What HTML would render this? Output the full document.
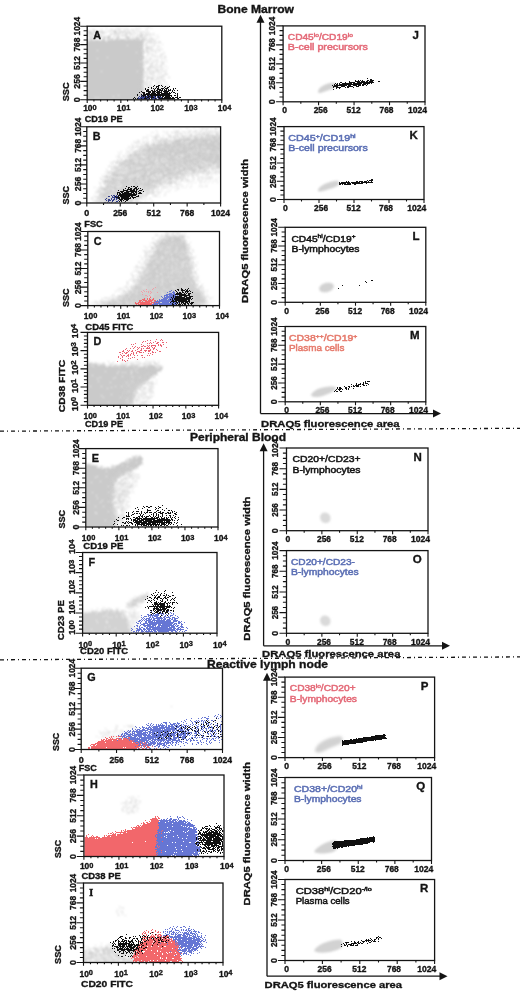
<!DOCTYPE html>
<html><head><meta charset="utf-8"><title>Figure</title>
<style>html,body{margin:0;padding:0;background:#fff;}svg{display:block;}
text{font-family:'Liberation Sans', 'DejaVu Sans', sans-serif;stroke:#141414;stroke-width:0.33px;}</style></head>
<body><svg width="520" height="993" viewBox="0 0 520 993" fill="#141414" font-weight="bold">
<defs><filter id="sp0" x="0" y="0" width="520" height="993" filterUnits="userSpaceOnUse" color-interpolation-filters="sRGB"><feTurbulence type="fractalNoise" baseFrequency="1.2" numOctaves="2" seed="3" result="n"/><feColorMatrix in="n" type="matrix" values="0 0 0 0 0 0 0 0 0 0 0 0 0 0 0 1 0 0 0 0" result="na"/><feComponentTransfer in="SourceAlpha" result="sa"><feFuncA type="table" tableValues="0 0.43 0.49 0.53 0.57 0.6 0.64 0.68 0.71 0.77 0.9"/></feComponentTransfer><feComposite in="sa" in2="na" operator="arithmetic" k1="0" k2="1" k3="-1" k4="0" result="d"/><feComponentTransfer in="d" result="t"><feFuncA type="discrete" tableValues="0 1 1 1 1 1 1 1 1 1"/></feComponentTransfer><feFlood flood-color="#cacaca"/><feComposite in2="t" operator="in"/><feGaussianBlur stdDeviation="0.8"/></filter><filter id="sp1" x="0" y="0" width="520" height="993" filterUnits="userSpaceOnUse" color-interpolation-filters="sRGB"><feTurbulence type="fractalNoise" baseFrequency="1.2" numOctaves="2" seed="11" result="n"/><feColorMatrix in="n" type="matrix" values="0 0 0 0 0 0 0 0 0 0 0 0 0 0 0 1 0 0 0 0" result="na"/><feComponentTransfer in="SourceAlpha" result="sa"><feFuncA type="table" tableValues="0 0.43 0.49 0.53 0.57 0.6 0.64 0.68 0.71 0.77 0.9"/></feComponentTransfer><feComposite in="sa" in2="na" operator="arithmetic" k1="0" k2="1" k3="-1" k4="0" result="d"/><feComponentTransfer in="d" result="t"><feFuncA type="discrete" tableValues="0 1 1 1 1 1 1 1 1 1"/></feComponentTransfer><feFlood flood-color="#d2d2d2"/><feComposite in2="t" operator="in"/><feGaussianBlur stdDeviation="0.8"/></filter><filter id="sp2" x="0" y="0" width="520" height="993" filterUnits="userSpaceOnUse" color-interpolation-filters="sRGB"><feTurbulence type="fractalNoise" baseFrequency="1.2" numOctaves="2" seed="23" result="n"/><feColorMatrix in="n" type="matrix" values="0 0 0 0 0 0 0 0 0 0 0 0 0 0 0 1 0 0 0 0" result="na"/><feComponentTransfer in="SourceAlpha" result="sa"><feFuncA type="table" tableValues="0 0.43 0.49 0.53 0.57 0.6 0.64 0.68 0.71 0.77 0.9"/></feComponentTransfer><feComposite in="sa" in2="na" operator="arithmetic" k1="0" k2="1" k3="-1" k4="0" result="d"/><feComponentTransfer in="d" result="t"><feFuncA type="discrete" tableValues="0 1 1 1 1 1 1 1 1 1"/></feComponentTransfer><feFlood flood-color="#101010"/><feComposite in2="t" operator="in"/></filter><filter id="sp3" x="0" y="0" width="520" height="993" filterUnits="userSpaceOnUse" color-interpolation-filters="sRGB"><feTurbulence type="fractalNoise" baseFrequency="1.2" numOctaves="2" seed="37" result="n"/><feColorMatrix in="n" type="matrix" values="0 0 0 0 0 0 0 0 0 0 0 0 0 0 0 1 0 0 0 0" result="na"/><feComponentTransfer in="SourceAlpha" result="sa"><feFuncA type="table" tableValues="0 0.43 0.49 0.53 0.57 0.6 0.64 0.68 0.71 0.77 0.9"/></feComponentTransfer><feComposite in="sa" in2="na" operator="arithmetic" k1="0" k2="1" k3="-1" k4="0" result="d"/><feComponentTransfer in="d" result="t"><feFuncA type="discrete" tableValues="0 1 1 1 1 1 1 1 1 1"/></feComponentTransfer><feFlood flood-color="#34408c"/><feComposite in2="t" operator="in"/></filter><filter id="sp4" x="0" y="0" width="520" height="993" filterUnits="userSpaceOnUse" color-interpolation-filters="sRGB"><feTurbulence type="fractalNoise" baseFrequency="1.2" numOctaves="2" seed="51" result="n"/><feColorMatrix in="n" type="matrix" values="0 0 0 0 0 0 0 0 0 0 0 0 0 0 0 1 0 0 0 0" result="na"/><feComponentTransfer in="SourceAlpha" result="sa"><feFuncA type="table" tableValues="0 0.43 0.49 0.53 0.57 0.6 0.64 0.68 0.71 0.77 0.9"/></feComponentTransfer><feComposite in="sa" in2="na" operator="arithmetic" k1="0" k2="1" k3="-1" k4="0" result="d"/><feComponentTransfer in="d" result="t"><feFuncA type="discrete" tableValues="0 1 1 1 1 1 1 1 1 1"/></feComponentTransfer><feFlood flood-color="#f0a0a8"/><feComposite in2="t" operator="in"/></filter><filter id="sp5" x="0" y="0" width="520" height="993" filterUnits="userSpaceOnUse" color-interpolation-filters="sRGB"><feTurbulence type="fractalNoise" baseFrequency="1.2" numOctaves="2" seed="67" result="n"/><feColorMatrix in="n" type="matrix" values="0 0 0 0 0 0 0 0 0 0 0 0 0 0 0 1 0 0 0 0" result="na"/><feComponentTransfer in="SourceAlpha" result="sa"><feFuncA type="table" tableValues="0 0.43 0.49 0.53 0.57 0.6 0.64 0.68 0.71 0.77 0.9"/></feComponentTransfer><feComposite in="sa" in2="na" operator="arithmetic" k1="0" k2="1" k3="-1" k4="0" result="d"/><feComponentTransfer in="d" result="t"><feFuncA type="discrete" tableValues="0 1 1 1 1 1 1 1 1 1"/></feComponentTransfer><feFlood flood-color="#f2676b"/><feComposite in2="t" operator="in"/></filter><filter id="sp6" x="0" y="0" width="520" height="993" filterUnits="userSpaceOnUse" color-interpolation-filters="sRGB"><feTurbulence type="fractalNoise" baseFrequency="1.2" numOctaves="2" seed="79" result="n"/><feColorMatrix in="n" type="matrix" values="0 0 0 0 0 0 0 0 0 0 0 0 0 0 0 1 0 0 0 0" result="na"/><feComponentTransfer in="SourceAlpha" result="sa"><feFuncA type="table" tableValues="0 0.43 0.49 0.53 0.57 0.6 0.64 0.68 0.71 0.77 0.9"/></feComponentTransfer><feComposite in="sa" in2="na" operator="arithmetic" k1="0" k2="1" k3="-1" k4="0" result="d"/><feComponentTransfer in="d" result="t"><feFuncA type="discrete" tableValues="0 1 1 1 1 1 1 1 1 1"/></feComponentTransfer><feFlood flood-color="#6676d4"/><feComposite in2="t" operator="in"/></filter><filter id="sp7" x="0" y="0" width="520" height="993" filterUnits="userSpaceOnUse" color-interpolation-filters="sRGB"><feTurbulence type="fractalNoise" baseFrequency="1.2" numOctaves="2" seed="97" result="n"/><feColorMatrix in="n" type="matrix" values="0 0 0 0 0 0 0 0 0 0 0 0 0 0 0 1 0 0 0 0" result="na"/><feComponentTransfer in="SourceAlpha" result="sa"><feFuncA type="table" tableValues="0 0.43 0.49 0.53 0.57 0.6 0.64 0.68 0.71 0.77 0.9"/></feComponentTransfer><feComposite in="sa" in2="na" operator="arithmetic" k1="0" k2="1" k3="-1" k4="0" result="d"/><feComponentTransfer in="d" result="t"><feFuncA type="discrete" tableValues="0 1 1 1 1 1 1 1 1 1"/></feComponentTransfer><feFlood flood-color="#ea6474"/><feComposite in2="t" operator="in"/></filter></defs>
<rect width="520" height="993" fill="#fff"/>
<text x="217.5" y="12.5" font-size="10.2" textLength="76.5" lengthAdjust="spacingAndGlyphs">Bone Marrow</text>
<text x="190" y="441" font-size="10.2" textLength="96" lengthAdjust="spacingAndGlyphs">Peripheral Blood</text>
<text x="207" y="667.5" font-size="10.2" textLength="121" lengthAdjust="spacingAndGlyphs">Reactive lymph node</text>
<line x1="0" y1="431.2" x2="520" y2="428.3" stroke="#141414" stroke-width="1.3" stroke-dasharray="4 3 1 3"/>
<line x1="0" y1="659.8" x2="520" y2="656.9" stroke="#141414" stroke-width="1.3" stroke-dasharray="4 3 1 3"/>
<clipPath id="c1"><rect x="87.8" y="26.8" width="133.4" height="72.4"/></clipPath>
<g clip-path="url(#c1)"><g fill="#000" filter="url(#sp0)"><path d="M86 41L125 39.5L143.5 40L143.5 101L86 101Z" style="filter:blur(0.7px)"/><path d="M86 29L146 29L146 42L86 42Z" fill-opacity="0.4" style="filter:blur(1.5px)"/></g><g fill="#000" filter="url(#sp1)"><path d="M143 31C144.67 19.67 149.83 30.67 153 33C156.17 35.33 159.83 38.83 162 45C164.17 51.17 165 60.67 166 70C167 79.33 171.83 95.83 168 101C164.17 106.17 147.17 112.67 143 101C138.83 89.33 141.33 42.33 143 31Z" fill-opacity="0.38" style="filter:blur(3px)"/></g><g fill="#000" filter="url(#sp2)"><path d="M136 100C129.83 98.67 138.67 94.08 141 92C143.33 89.92 146.83 88.58 150 87.5C153.17 86.42 156.67 85.75 160 85.5C163.33 85.25 167.17 85.08 170 86C172.83 86.92 175.67 88.67 177 91C178.33 93.33 184.83 98.5 178 100C171.17 101.5 142.17 101.33 136 100Z" fill-opacity="0.42" style="filter:blur(1.2px)"/><path d="M140 100C136 99 142.5 95.58 145 94C147.5 92.42 151.67 91.08 155 90.5C158.33 89.92 162.5 89.92 165 90.5C167.5 91.08 169.33 92.42 170 94C170.67 95.58 174 99 169 100C164 101 144 101 140 100Z" fill-opacity="0.8" style="filter:blur(1px)"/></g><g fill="#000" filter="url(#sp3)"><path d="M136 100L141 96L160 97L165 100Z" fill-opacity="0.7" style="filter:blur(1px)"/></g></g>
<rect x="87.2" y="26.2" width="134.6" height="73.6" fill="none" stroke="#141414" stroke-width="1.3"/>
<text transform="translate(79.6 99.8) rotate(-90)" font-size="8.4" text-anchor="middle" textLength="5" lengthAdjust="spacingAndGlyphs">0</text>
<text transform="translate(79.6 81.4) rotate(-90)" font-size="8.4" text-anchor="middle" textLength="14.5" lengthAdjust="spacingAndGlyphs">256</text>
<text transform="translate(79.6 63) rotate(-90)" font-size="8.4" text-anchor="middle" textLength="14" lengthAdjust="spacingAndGlyphs">512</text>
<text transform="translate(79.6 44.6) rotate(-90)" font-size="8.4" text-anchor="middle" textLength="14" lengthAdjust="spacingAndGlyphs">768</text>
<text transform="translate(79.6 26.2) rotate(-90)" font-size="8.4" text-anchor="middle" textLength="18.5" lengthAdjust="spacingAndGlyphs">1024</text>
<text x="83.2" y="111" font-size="8.3" textLength="13.5" lengthAdjust="spacingAndGlyphs">10<tspan font-size="7.3" dy="-1.3">0</tspan></text>
<text x="116.85" y="111" font-size="8.3" textLength="13.5" lengthAdjust="spacingAndGlyphs">10<tspan font-size="7.3" dy="-1.3">1</tspan></text>
<text x="150.5" y="111" font-size="8.3" textLength="13.5" lengthAdjust="spacingAndGlyphs">10<tspan font-size="7.3" dy="-1.3">2</tspan></text>
<text x="184.15" y="111" font-size="8.3" textLength="13.5" lengthAdjust="spacingAndGlyphs">10<tspan font-size="7.3" dy="-1.3">3</tspan></text>
<text x="217.8" y="111" font-size="8.3" textLength="13.5" lengthAdjust="spacingAndGlyphs">10<tspan font-size="7.3" dy="-1.3">4</tspan></text>
<text transform="translate(69.4 101.3) rotate(-90)" font-size="9.2" textLength="19" lengthAdjust="spacingAndGlyphs">SSC</text>
<text x="84.7" y="121.5" font-size="9.2" textLength="38" lengthAdjust="spacingAndGlyphs">CD19 PE</text>
<text x="93.2" y="39.2" font-size="10.8">A</text>
<clipPath id="c2"><rect x="87.4" y="127.4" width="132.6" height="75"/></clipPath>
<g clip-path="url(#c2)"><g fill="#000" filter="url(#sp0)"><path d="M100 204C95.17 201 100.5 192.17 103 186C105.5 179.83 109.67 172.83 115 167C120.33 161.17 127.5 155.33 135 151C142.5 146.67 150.83 143.33 160 141C169.17 138.67 179.17 137.83 190 137C200.83 136.17 219.17 131.17 225 136C230.83 140.83 229.17 160 225 166C220.83 172 208.33 169.67 200 172C191.67 174.33 183.33 177 175 180C166.67 183 157.17 186 150 190C142.83 194 140.33 201.67 132 204C123.67 206.33 104.83 207 100 204Z" fill-opacity="0.72" style="filter:blur(3px)"/><path d="M150 148C152.5 143.83 167.5 141.5 180 140C192.5 138.5 217.5 135.67 225 139C232.5 142.33 230 156 225 160C220 164 205 162.17 195 163C185 163.83 172.5 167.5 165 165C157.5 162.5 147.5 152.17 150 148Z" fill-opacity="0.55" style="filter:blur(3px)"/></g><g fill="#000" filter="url(#sp1)"><path d="M95 204C88.33 200 95.83 188.17 100 180C104.17 171.83 111.67 162.5 120 155C128.33 147.5 138.33 139.5 150 135C161.67 130.5 177.5 129.17 190 128C202.5 126.83 219.17 120 225 128C230.83 136 232.5 166 225 176C217.5 186 192.5 184 180 188C167.5 192 156.67 197.33 150 200C143.33 202.67 149.17 203.33 140 204C130.83 204.67 101.67 208 95 204Z" fill-opacity="0.3" style="filter:blur(4px)"/></g><g fill="#000" filter="url(#sp2)"><path d="M142.49 190.12L142.56 191.27L142.19 192.5L141.39 193.78L140.18 195.06L138.6 196.31L136.7 197.5L134.54 198.57L132.17 199.51L129.68 200.28L127.14 200.86L124.63 201.23L122.21 201.38L119.98 201.31L117.98 201.01L116.29 200.5L114.96 199.8L114.02 198.91L113.51 197.88L113.44 196.73L113.81 195.5L114.61 194.22L115.82 192.94L117.4 191.69L119.3 190.5L121.46 189.43L123.83 188.49L126.32 187.72L128.86 187.14L131.37 186.77L133.79 186.62L136.02 186.69L138.02 186.99L139.71 187.5L141.04 188.2L141.98 189.09Z" fill-opacity="0.5" style="filter:blur(1.8px)"/><path d="M136.66 192.41L136.69 193.12L136.43 193.89L135.88 194.69L135.06 195.5L134 196.3L132.73 197.05L131.28 197.75L129.7 198.36L128.04 198.86L126.34 199.25L124.67 199.52L123.07 199.64L121.58 199.62L120.27 199.47L119.15 199.17L118.28 198.75L117.67 198.22L117.34 197.59L117.31 196.88L117.57 196.11L118.12 195.31L118.94 194.5L120 193.7L121.27 192.95L122.72 192.25L124.3 191.64L125.96 191.14L127.66 190.75L129.33 190.48L130.93 190.36L132.42 190.38L133.73 190.53L134.85 190.83L135.72 191.25L136.33 191.78Z" fill-opacity="0.85" style="filter:blur(1.2px)"/></g><g fill="#000" filter="url(#sp3)"><path d="M118.58 197.11L118.69 197.71L118.59 198.38L118.3 199.07L117.81 199.78L117.15 200.48L116.33 201.15L115.37 201.77L114.32 202.32L113.2 202.79L112.04 203.15L110.88 203.41L109.75 203.55L108.69 203.56L107.73 203.45L106.9 203.22L106.23 202.87L105.73 202.43L105.42 201.89L105.31 201.29L105.41 200.62L105.7 199.93L106.19 199.22L106.85 198.52L107.67 197.85L108.63 197.23L109.68 196.68L110.8 196.21L111.96 195.85L113.12 195.59L114.25 195.45L115.31 195.44L116.27 195.55L117.1 195.78L117.77 196.13L118.27 196.57Z" fill-opacity="0.65" style="filter:blur(1.5px)"/></g></g>
<rect x="86.8" y="126.8" width="133.8" height="76.2" fill="none" stroke="#141414" stroke-width="1.3"/>
<text transform="translate(80.8 203) rotate(-90)" font-size="8.4" text-anchor="middle" textLength="5" lengthAdjust="spacingAndGlyphs">0</text>
<text transform="translate(80.8 183.95) rotate(-90)" font-size="8.4" text-anchor="middle" textLength="14.5" lengthAdjust="spacingAndGlyphs">256</text>
<text transform="translate(80.8 164.9) rotate(-90)" font-size="8.4" text-anchor="middle" textLength="14" lengthAdjust="spacingAndGlyphs">512</text>
<text transform="translate(80.8 145.85) rotate(-90)" font-size="8.4" text-anchor="middle" textLength="14" lengthAdjust="spacingAndGlyphs">768</text>
<text transform="translate(80.8 126.8) rotate(-90)" font-size="8.4" text-anchor="middle" textLength="18.5" lengthAdjust="spacingAndGlyphs">1024</text>
<text x="86.8" y="215.8" font-size="8.4" text-anchor="middle" textLength="5" lengthAdjust="spacingAndGlyphs">0</text>
<text x="120.25" y="215.8" font-size="8.4" text-anchor="middle" textLength="14.2" lengthAdjust="spacingAndGlyphs">256</text>
<text x="153.7" y="215.8" font-size="8.4" text-anchor="middle" textLength="14.2" lengthAdjust="spacingAndGlyphs">512</text>
<text x="187.15" y="215.8" font-size="8.4" text-anchor="middle" textLength="14.2" lengthAdjust="spacingAndGlyphs">768</text>
<text x="220.6" y="215.8" font-size="8.4" text-anchor="middle" textLength="19" lengthAdjust="spacingAndGlyphs">1024</text>
<text transform="translate(69.4 204.5) rotate(-90)" font-size="9.2" textLength="18.5" lengthAdjust="spacingAndGlyphs">SSC</text>
<text x="84.3" y="226.5" font-size="9.2" textLength="18.5" lengthAdjust="spacingAndGlyphs">FSC</text>
<text x="92.8" y="139.8" font-size="10.8">B</text>
<clipPath id="c3"><rect x="88.4" y="232.1" width="130.5" height="72.9"/></clipPath>
<g clip-path="url(#c3)"><g fill="#000" filter="url(#sp0)"><path d="M98 307C84.33 305.67 112 302.33 118 299C124 295.67 129.5 291.83 134 287C138.5 282.17 141.83 275.83 145 270C148.17 264.17 150.17 257.17 153 252C155.83 246.83 158.67 241.83 162 239C165.33 236.17 169.33 235 173 235C176.67 235 181.17 235.17 184 239C186.83 242.83 188.17 250.83 190 258C191.83 265.17 193.33 273.83 195 282C196.67 290.17 216.17 302.83 200 307C183.83 311.17 111.67 308.33 98 307Z" fill-opacity="0.85" style="filter:blur(2px)"/></g><g fill="#000" filter="url(#sp1)"><path d="M92 307C76.17 305.33 104 301 110 297C116 293 123 288.83 128 283C133 277.17 136.33 268.83 140 262C143.67 255.17 145.83 247 150 242C154.17 237 159.67 233.67 165 232C170.33 230.33 177.5 229 182 232C186.5 235 189.33 242 192 250C194.67 258 195.83 270.5 198 280C200.17 289.5 222.67 302.5 205 307C187.33 311.5 107.83 308.67 92 307Z" fill-opacity="0.4" style="filter:blur(3px)"/></g><g fill="#000" filter="url(#sp4)"><path d="M141 292a9 4 0 1 0 18 0a9 4 0 1 0 -18 0Z" fill-opacity="0.35" style="filter:blur(2px)"/></g><g fill="#000" filter="url(#sp5)"><path d="M136 306C133.17 305 137.67 301.25 140 300C142.33 298.75 147.17 298.42 150 298.5C152.83 298.58 155.83 299.25 157 300.5C158.17 301.75 160.5 305.08 157 306C153.5 306.92 138.83 307 136 306Z" fill-opacity="0.85" style="filter:blur(1px)"/></g><g fill="#000" filter="url(#sp6)"><path d="M153 306C149.83 305.17 155 302.67 157 301C159 299.33 162.17 297.5 165 296C167.83 294.5 172.17 290.33 174 292C175.83 293.67 179.5 303.67 176 306C172.5 308.33 156.17 306.83 153 306Z" fill-opacity="0.9" style="filter:blur(1px)"/></g><g fill="#000" filter="url(#sp2)"><path d="M172 306C168.83 304.17 171.67 297.83 173 295C174.33 292.17 177.33 289.92 180 289C182.67 288.08 186.83 288.17 189 289.5C191.17 290.83 192.5 294.25 193 297C193.5 299.75 195.5 304.5 192 306C188.5 307.5 175.17 307.83 172 306Z" fill-opacity="0.55" style="filter:blur(1.5px)"/><path d="M175 299a7 4.5 0 1 0 14 0a7 4.5 0 1 0 -14 0Z" fill-opacity="0.85" style="filter:blur(1.2px)"/></g></g>
<rect x="87.8" y="231.5" width="131.7" height="74.1" fill="none" stroke="#141414" stroke-width="1.3"/>
<text transform="translate(81.2 305.6) rotate(-90)" font-size="8.4" text-anchor="middle" textLength="5" lengthAdjust="spacingAndGlyphs">0</text>
<text transform="translate(81.2 287.08) rotate(-90)" font-size="8.4" text-anchor="middle" textLength="14.5" lengthAdjust="spacingAndGlyphs">256</text>
<text transform="translate(81.2 268.55) rotate(-90)" font-size="8.4" text-anchor="middle" textLength="14" lengthAdjust="spacingAndGlyphs">512</text>
<text transform="translate(81.2 250.03) rotate(-90)" font-size="8.4" text-anchor="middle" textLength="14" lengthAdjust="spacingAndGlyphs">768</text>
<text transform="translate(81.2 231.5) rotate(-90)" font-size="8.4" text-anchor="middle" textLength="18.5" lengthAdjust="spacingAndGlyphs">1024</text>
<text x="83.8" y="318.8" font-size="8.3" textLength="13.5" lengthAdjust="spacingAndGlyphs">10<tspan font-size="7.3" dy="-1.3">0</tspan></text>
<text x="116.72" y="318.8" font-size="8.3" textLength="13.5" lengthAdjust="spacingAndGlyphs">10<tspan font-size="7.3" dy="-1.3">1</tspan></text>
<text x="149.65" y="318.8" font-size="8.3" textLength="13.5" lengthAdjust="spacingAndGlyphs">10<tspan font-size="7.3" dy="-1.3">2</tspan></text>
<text x="182.57" y="318.8" font-size="8.3" textLength="13.5" lengthAdjust="spacingAndGlyphs">10<tspan font-size="7.3" dy="-1.3">3</tspan></text>
<text x="215.5" y="318.8" font-size="8.3" textLength="13.5" lengthAdjust="spacingAndGlyphs">10<tspan font-size="7.3" dy="-1.3">4</tspan></text>
<text transform="translate(69.4 307.1) rotate(-90)" font-size="9.2" textLength="18.5" lengthAdjust="spacingAndGlyphs">SSC</text>
<text x="85.3" y="329.6" font-size="9.2" textLength="48" lengthAdjust="spacingAndGlyphs">CD45 FITC</text>
<text x="93.8" y="244.5" font-size="10.8">C</text>
<clipPath id="c4"><rect x="88.1" y="333" width="129.9" height="71.7"/></clipPath>
<g clip-path="url(#c4)"><g fill="#000" filter="url(#sp0)"><path d="M85 366.5C89.17 359.67 100.83 366.17 110 366C119.17 365.83 132 365.5 140 365.5C148 365.5 154.17 365.42 158 366C161.83 366.58 164.33 366.83 163 369C161.67 371.17 154.33 375.67 150 379C145.67 382.33 140.67 384.33 137 389C133.33 393.67 136.67 404 128 407C119.33 410 92.17 413.75 85 407C77.83 400.25 80.83 373.33 85 366.5Z" fill-opacity="0.95" style="filter:blur(1.2px)"/><path d="M86 362L160 361L160 367L86 367Z" fill-opacity="0.3" style="filter:blur(1.5px)"/></g><g fill="#000" filter="url(#sp1)"><path d="M125 380L150 372L156 380L148 407L122 407Z" fill-opacity="0.4" style="filter:blur(3px)"/></g><g fill="#000" filter="url(#sp7)"><path d="M169.73 341.52L169.69 342.9L168.81 344.49L167.11 346.24L164.65 348.12L161.51 350.04L157.77 351.97L153.55 353.84L148.98 355.59L144.19 357.17L139.34 358.54L134.58 359.64L130.03 360.45L125.85 360.94L122.16 361.11L119.08 360.93L116.69 360.42L115.07 359.6L114.27 358.48L114.31 357.1L115.19 355.51L116.89 353.76L119.35 351.88L122.49 349.96L126.23 348.03L130.45 346.16L135.02 344.41L139.81 342.83L144.66 341.46L149.42 340.36L153.97 339.55L158.15 339.06L161.84 338.89L164.92 339.07L167.31 339.58L168.93 340.4Z" fill-opacity="0.27" style="filter:blur(3px)"/><path d="M165.43 343.2L165.45 343.92L165.08 344.74L164.35 345.62L163.28 346.55L161.89 347.49L160.23 348.41L158.35 349.29L156.31 350.11L154.17 350.83L151.99 351.43L149.85 351.89L147.8 352.21L145.9 352.37L144.23 352.37L142.82 352.2L141.72 351.88L140.96 351.41L140.57 350.8L140.55 350.08L140.92 349.26L141.65 348.38L142.72 347.45L144.11 346.51L145.77 345.59L147.65 344.71L149.69 343.89L151.83 343.17L154.01 342.57L156.15 342.11L158.2 341.79L160.1 341.63L161.77 341.63L163.18 341.8L164.28 342.12L165.04 342.59Z" fill-opacity="0.2" style="filter:blur(2px)"/></g></g>
<rect x="87.5" y="332.4" width="131.1" height="72.9" fill="none" stroke="#141414" stroke-width="1.3"/>
<text transform="translate(77.7 411.3) rotate(-90)" font-size="8.8" textLength="14.5" lengthAdjust="spacingAndGlyphs">10<tspan font-size="7.48" dy="-1.6">0</tspan></text>
<text transform="translate(77.7 393.07) rotate(-90)" font-size="8.8" textLength="14.5" lengthAdjust="spacingAndGlyphs">10<tspan font-size="7.48" dy="-1.6">1</tspan></text>
<text transform="translate(77.7 374.85) rotate(-90)" font-size="8.8" textLength="14.5" lengthAdjust="spacingAndGlyphs">10<tspan font-size="7.48" dy="-1.6">2</tspan></text>
<text transform="translate(77.7 356.62) rotate(-90)" font-size="8.8" textLength="14.5" lengthAdjust="spacingAndGlyphs">10<tspan font-size="7.48" dy="-1.6">3</tspan></text>
<text transform="translate(77.7 338.4) rotate(-90)" font-size="8.8" textLength="14.5" lengthAdjust="spacingAndGlyphs">10<tspan font-size="7.48" dy="-1.6">4</tspan></text>
<text x="83.5" y="419" font-size="8.3" textLength="13.5" lengthAdjust="spacingAndGlyphs">10<tspan font-size="7.3" dy="-1.3">0</tspan></text>
<text x="116.28" y="419" font-size="8.3" textLength="13.5" lengthAdjust="spacingAndGlyphs">10<tspan font-size="7.3" dy="-1.3">1</tspan></text>
<text x="149.05" y="419" font-size="8.3" textLength="13.5" lengthAdjust="spacingAndGlyphs">10<tspan font-size="7.3" dy="-1.3">2</tspan></text>
<text x="181.82" y="419" font-size="8.3" textLength="13.5" lengthAdjust="spacingAndGlyphs">10<tspan font-size="7.3" dy="-1.3">3</tspan></text>
<text x="214.6" y="419" font-size="8.3" textLength="13.5" lengthAdjust="spacingAndGlyphs">10<tspan font-size="7.3" dy="-1.3">4</tspan></text>
<text transform="translate(65 412.3) rotate(-90)" font-size="9.2" textLength="52.5" lengthAdjust="spacingAndGlyphs">CD38 FITC</text>
<text x="85" y="426.7" font-size="9.2" textLength="38" lengthAdjust="spacingAndGlyphs">CD19 PE</text>
<text x="93.5" y="345.4" font-size="10.8">D</text>
<clipPath id="c5"><rect x="86.4" y="449.2" width="131" height="77.2"/></clipPath>
<g clip-path="url(#c5)"><g fill="#000" filter="url(#sp0)"><path d="M84 468C86.67 457.75 95.33 467.67 100 467.5C104.67 467.33 107.83 468.08 112 467C116.17 465.92 121.17 462.67 125 461C128.83 459.33 132 457.5 135 457C138 456.5 142.17 456.5 143 458C143.83 459.5 142.5 463.5 140 466C137.5 468.5 132 470.5 128 473C124 475.5 118.33 476.5 116 481C113.67 485.5 114.33 492 114 500C113.67 508 119 524.17 114 529C109 533.83 89 539.17 84 529C79 518.83 81.33 478.25 84 468Z" fill-opacity="0.97" style="filter:blur(1.2px)"/></g><g fill="#000" filter="url(#sp1)"><path d="M112 475L130 468L138 475L128 500L125 529L110 529Z" fill-opacity="0.5" style="filter:blur(3px)"/></g><g fill="#000" filter="url(#sp2)"><path d="M116 527C107.5 524.67 121 517.33 125 514C129 510.67 134.17 508.33 140 507C145.83 505.67 154.17 505.33 160 506C165.83 506.67 171.67 508.33 175 511C178.33 513.67 179.83 519.17 180 522C180.17 524.83 186.67 527.17 176 528C165.33 528.83 124.5 529.33 116 527Z" fill-opacity="0.27" style="filter:blur(2px)"/><path d="M131 521.5a21 4.5 0 1 0 42 0a21 4.5 0 1 0 -42 0Z" fill-opacity="0.8" style="filter:blur(1.8px)"/><path d="M138 522a12 3 0 1 0 24 0a12 3 0 1 0 -24 0Z" fill-opacity="0.5" style="filter:blur(1.2px)"/></g></g>
<rect x="85.8" y="448.6" width="132.2" height="78.4" fill="none" stroke="#141414" stroke-width="1.3"/>
<text transform="translate(78.5 527) rotate(-90)" font-size="8.4" text-anchor="middle" textLength="5" lengthAdjust="spacingAndGlyphs">0</text>
<text transform="translate(78.5 507.4) rotate(-90)" font-size="8.4" text-anchor="middle" textLength="14.5" lengthAdjust="spacingAndGlyphs">256</text>
<text transform="translate(78.5 487.8) rotate(-90)" font-size="8.4" text-anchor="middle" textLength="14" lengthAdjust="spacingAndGlyphs">512</text>
<text transform="translate(78.5 468.2) rotate(-90)" font-size="8.4" text-anchor="middle" textLength="14" lengthAdjust="spacingAndGlyphs">768</text>
<text transform="translate(78.5 448.6) rotate(-90)" font-size="8.4" text-anchor="middle" textLength="18.5" lengthAdjust="spacingAndGlyphs">1024</text>
<text x="81.8" y="540.8" font-size="8.3" textLength="13.5" lengthAdjust="spacingAndGlyphs">10<tspan font-size="7.3" dy="-1.3">0</tspan></text>
<text x="114.85" y="540.8" font-size="8.3" textLength="13.5" lengthAdjust="spacingAndGlyphs">10<tspan font-size="7.3" dy="-1.3">1</tspan></text>
<text x="147.9" y="540.8" font-size="8.3" textLength="13.5" lengthAdjust="spacingAndGlyphs">10<tspan font-size="7.3" dy="-1.3">2</tspan></text>
<text x="180.95" y="540.8" font-size="8.3" textLength="13.5" lengthAdjust="spacingAndGlyphs">10<tspan font-size="7.3" dy="-1.3">3</tspan></text>
<text x="214" y="540.8" font-size="8.3" textLength="13.5" lengthAdjust="spacingAndGlyphs">10<tspan font-size="7.3" dy="-1.3">4</tspan></text>
<text transform="translate(64.6 528.5) rotate(-90)" font-size="9.2" textLength="18.7" lengthAdjust="spacingAndGlyphs">SSC</text>
<text x="83.3" y="548.5" font-size="9.2" textLength="40" lengthAdjust="spacingAndGlyphs">CD19 PE</text>
<text x="91.8" y="461.6" font-size="10.8">E</text>
<clipPath id="c6"><rect x="83.2" y="553.1" width="133.2" height="79.5"/></clipPath>
<g clip-path="url(#c6)"><g fill="#000" filter="url(#sp1)"><path d="M80 615C82 610.83 87.33 611.92 92 611C96.67 610.08 103.33 609.5 108 609.5C112.67 609.5 117 609.25 120 611C123 612.75 124.67 615.83 126 620C127.33 624.17 135.67 633.33 128 636C120.33 638.67 88 639.5 80 636C72 632.5 78 619.17 80 615Z" fill-opacity="0.95" style="filter:blur(1.5px)"/><path d="M149.26 594.5L149.45 595.23L149.3 596.14L148.8 597.19L147.97 598.36L146.85 599.61L145.45 600.9L143.82 602.19L142.02 603.45L140.1 604.64L138.11 605.71L136.12 606.64L134.19 607.4L132.37 607.96L130.73 608.32L129.3 608.45L128.14 608.35L127.28 608.03L126.74 607.5L126.55 606.77L126.7 605.86L127.2 604.81L128.03 603.64L129.15 602.39L130.55 601.1L132.18 599.81L133.98 598.55L135.9 597.36L137.89 596.29L139.88 595.36L141.81 594.6L143.63 594.04L145.27 593.68L146.7 593.55L147.86 593.65L148.72 593.97Z" fill-opacity="0.8" style="filter:blur(1.5px)"/><path d="M118 612L135 606L140 620L135 635L118 635Z" fill-opacity="0.35" style="filter:blur(2.5px)"/></g><g fill="#000" filter="url(#sp6)"><path d="M134 636C126.33 633.67 135.67 625.67 138 622C140.33 618.33 144 615.67 148 614C152 612.33 157.33 611.83 162 612C166.67 612.17 172.5 613 176 615C179.5 617 181.67 620.5 183 624C184.33 627.5 192.17 634 184 636C175.83 638 141.67 638.33 134 636Z" fill-opacity="0.5" style="filter:blur(2px)"/><path d="M145 626a15 9 0 1 0 30 0a15 9 0 1 0 -30 0Z" fill-opacity="0.75" style="filter:blur(1.5px)"/></g><g fill="#000" filter="url(#sp2)"><path d="M146 603a15 13 0 1 0 30 0a15 13 0 1 0 -30 0Z" fill-opacity="0.32" style="filter:blur(3px)"/><path d="M153 607.5a8 4.5 0 1 0 16 0a8 4.5 0 1 0 -16 0Z" fill-opacity="0.85" style="filter:blur(1.5px)"/></g></g>
<rect x="82.6" y="552.5" width="134.4" height="80.7" fill="none" stroke="#141414" stroke-width="1.3"/>
<text transform="translate(75.4 634.7) rotate(-90)" font-size="8.8" textLength="14.5" lengthAdjust="spacingAndGlyphs">10<tspan font-size="7.48" dy="-1.6">0</tspan></text>
<text transform="translate(75.4 614.53) rotate(-90)" font-size="8.8" textLength="14.5" lengthAdjust="spacingAndGlyphs">10<tspan font-size="7.48" dy="-1.6">1</tspan></text>
<text transform="translate(75.4 594.35) rotate(-90)" font-size="8.8" textLength="14.5" lengthAdjust="spacingAndGlyphs">10<tspan font-size="7.48" dy="-1.6">2</tspan></text>
<text transform="translate(75.4 574.17) rotate(-90)" font-size="8.8" textLength="14.5" lengthAdjust="spacingAndGlyphs">10<tspan font-size="7.48" dy="-1.6">3</tspan></text>
<text transform="translate(75.4 554) rotate(-90)" font-size="8.8" textLength="14.5" lengthAdjust="spacingAndGlyphs">10<tspan font-size="7.48" dy="-1.6">4</tspan></text>
<text x="78.6" y="647.7" font-size="8.3" textLength="13.5" lengthAdjust="spacingAndGlyphs">10<tspan font-size="7.3" dy="-1.3">0</tspan></text>
<text x="112.2" y="647.7" font-size="8.3" textLength="13.5" lengthAdjust="spacingAndGlyphs">10<tspan font-size="7.3" dy="-1.3">1</tspan></text>
<text x="145.8" y="647.7" font-size="8.3" textLength="13.5" lengthAdjust="spacingAndGlyphs">10<tspan font-size="7.3" dy="-1.3">2</tspan></text>
<text x="179.4" y="647.7" font-size="8.3" textLength="13.5" lengthAdjust="spacingAndGlyphs">10<tspan font-size="7.3" dy="-1.3">3</tspan></text>
<text x="213" y="647.7" font-size="8.3" textLength="13.5" lengthAdjust="spacingAndGlyphs">10<tspan font-size="7.3" dy="-1.3">4</tspan></text>
<text transform="translate(63.8 640.2) rotate(-90)" font-size="9.2" textLength="40" lengthAdjust="spacingAndGlyphs">CD23 PE</text>
<text x="80.1" y="653.8" font-size="9.2" textLength="48" lengthAdjust="spacingAndGlyphs">CD20 FITC</text>
<text x="88.6" y="565.5" font-size="10.8">F</text>
<clipPath id="c7"><rect x="81.8" y="668.8" width="140.1" height="80.1"/></clipPath>
<g clip-path="url(#c7)"><g fill="#000" filter="url(#sp1)"><path d="M115 702a45 18 0 1 0 90 0a45 18 0 1 0 -90 0Z" fill-opacity="0.06" style="filter:blur(6px)"/><path d="M95 738C93.33 736 104.17 730.17 110 728C115.83 725.83 125 724.33 130 725C135 725.67 141.67 729.5 140 732C138.33 734.5 127.5 739 120 740C112.5 741 96.67 740 95 738Z" fill-opacity="0.3" style="filter:blur(3px)"/></g><g fill="#000" filter="url(#sp6)"><path d="M114 744C111.33 741.83 118.83 736.83 124 734C129.17 731.17 136.5 729.17 145 727C153.5 724.83 164.17 722.67 175 721C185.83 719.33 201.67 717.67 210 717C218.33 716.33 222.5 713 225 717C227.5 721 230.83 736.5 225 741C219.17 745.5 200.83 742.83 190 744C179.17 745.17 168.33 747.5 160 748C151.67 748.5 147.67 747.67 140 747C132.33 746.33 116.67 746.17 114 744Z" fill-opacity="0.33" style="filter:blur(2.5px)"/><path d="M118 742C117.17 739.5 123.83 733.67 130 731C136.17 728.33 146.67 727 155 726C163.33 725 174.17 724.17 180 725C185.83 725.83 190.33 728.33 190 731C189.67 733.67 183.83 738.5 178 741C172.17 743.5 162.17 745.17 155 746C147.83 746.83 141.17 746.67 135 746C128.83 745.33 118.83 744.5 118 742Z" fill-opacity="0.75" style="filter:blur(2px)"/></g><g fill="#000" filter="url(#sp2)"><path d="M150 734C151.67 731.5 166.67 728.17 175 726C183.33 723.83 191.83 722.17 200 721C208.17 719.83 220 716.17 224 719C228 721.83 228.83 734.5 224 738C219.17 741.5 204.83 739.5 195 740C185.17 740.5 172.5 742 165 741C157.5 740 148.33 736.5 150 734Z" fill-opacity="0.17" style="filter:blur(3px)"/></g><g fill="#000" filter="url(#sp5)"><path d="M89 751C82.67 749.67 92.83 745.08 96 743C99.17 740.92 103.67 739.33 108 738.5C112.33 737.67 118 737.58 122 738C126 738.42 130 738.83 132 741C134 743.17 141.17 749.33 134 751C126.83 752.67 95.33 752.33 89 751Z" fill-opacity="0.95" style="filter:blur(1.5px)"/><path d="M128 751C123.83 749.67 128 744.5 130 743C132 741.5 136.33 741.5 140 742C143.67 742.5 149.5 744.5 152 746C154.5 747.5 159 750.17 155 751C151 751.83 132.17 752.33 128 751Z" fill-opacity="0.5" style="filter:blur(1.5px)"/></g></g>
<rect x="81.2" y="668.2" width="141.3" height="81.3" fill="none" stroke="#141414" stroke-width="1.3"/>
<text transform="translate(74.6 749.5) rotate(-90)" font-size="8.4" text-anchor="middle" textLength="5" lengthAdjust="spacingAndGlyphs">0</text>
<text transform="translate(74.6 729.17) rotate(-90)" font-size="8.4" text-anchor="middle" textLength="14.5" lengthAdjust="spacingAndGlyphs">256</text>
<text transform="translate(74.6 708.85) rotate(-90)" font-size="8.4" text-anchor="middle" textLength="14" lengthAdjust="spacingAndGlyphs">512</text>
<text transform="translate(74.6 688.53) rotate(-90)" font-size="8.4" text-anchor="middle" textLength="14" lengthAdjust="spacingAndGlyphs">768</text>
<text transform="translate(74.6 668.2) rotate(-90)" font-size="8.4" text-anchor="middle" textLength="18.5" lengthAdjust="spacingAndGlyphs">1024</text>
<text x="81.2" y="762.7" font-size="8.4" text-anchor="middle" textLength="5" lengthAdjust="spacingAndGlyphs">0</text>
<text x="116.53" y="762.7" font-size="8.4" text-anchor="middle" textLength="14.2" lengthAdjust="spacingAndGlyphs">256</text>
<text x="151.85" y="762.7" font-size="8.4" text-anchor="middle" textLength="14.2" lengthAdjust="spacingAndGlyphs">512</text>
<text x="187.18" y="762.7" font-size="8.4" text-anchor="middle" textLength="14.2" lengthAdjust="spacingAndGlyphs">768</text>
<text x="222.5" y="762.7" font-size="8.4" text-anchor="middle" textLength="19" lengthAdjust="spacingAndGlyphs">1024</text>
<text transform="translate(59.2 751) rotate(-90)" font-size="9.2" textLength="18.3" lengthAdjust="spacingAndGlyphs">SSC</text>
<text x="78.7" y="771.3" font-size="9.2" textLength="18.2" lengthAdjust="spacingAndGlyphs">FSC</text>
<text x="87.2" y="681.2" font-size="10.8">G</text>
<clipPath id="c8"><rect x="84.5" y="775.6" width="138.9" height="80.3"/></clipPath>
<g clip-path="url(#c8)"><g fill="#000" filter="url(#sp1)"><path d="M139.66 800L140.22 801.28L140.51 802.67L140.5 804.13L140.21 805.62L139.63 807.09L138.79 808.5L137.72 809.8L136.44 810.95L135 811.93L133.44 812.69L131.8 813.22L130.13 813.5L128.5 813.52L126.94 813.28L125.5 812.79L124.23 812.07L123.17 811.13L122.34 810L121.78 808.72L121.49 807.33L121.5 805.87L121.79 804.38L122.37 802.91L123.21 801.5L124.28 800.2L125.56 799.05L127 798.07L128.56 797.31L130.2 796.78L131.87 796.5L133.5 796.48L135.06 796.72L136.5 797.21L137.77 797.93L138.83 798.87Z" fill-opacity="0.22" style="filter:blur(2.5px)"/><path d="M85 810a65 25 0 1 0 130 0a65 25 0 1 0 -130 0Z" fill-opacity="0.04" style="filter:blur(8px)"/></g><g fill="#000" filter="url(#sp5)"><path d="M80 838C83.33 834.5 93.67 837.67 100 837C106.33 836.33 112.5 835.33 118 834C123.5 832.67 128 830.83 133 829C138 827.17 143.67 824.58 148 823C152.33 821.42 157.08 813.67 159 819.5C160.92 825.33 172.67 851.58 159.5 858C146.33 864.42 93.25 861.33 80 858C66.75 854.67 76.67 841.5 80 838Z" style="filter:blur(1.3px)"/><path d="M84 836C90 834.5 107.67 834 120 831C132.33 828 151.5 817.33 158 818C164.5 818.67 171.33 831.33 159 835C146.67 838.67 96.5 839.83 84 840C71.5 840.17 78 837.5 84 836Z" fill-opacity="0.25" style="filter:blur(2px)"/></g><g fill="#000" filter="url(#sp6)"><path d="M159 858C152.67 852.17 157.83 829.42 159 823C160.17 816.58 162.5 820 166 819.5C169.5 819 175.67 819.25 180 820C184.33 820.75 189.17 821.83 192 824C194.83 826.17 196.17 827.33 197 833C197.83 838.67 203.33 853.83 197 858C190.67 862.17 165.33 863.83 159 858Z" fill-opacity="0.92" style="filter:blur(1.3px)"/><path d="M161 820a17 4 0 1 0 34 0a17 4 0 1 0 -34 0Z" fill-opacity="0.2" style="filter:blur(2px)"/></g><g fill="#000" filter="url(#sp2)"><path d="M198 851C195.33 848.33 195.17 840.83 196 837C196.83 833.17 199.83 830 203 828C206.17 826 211.17 825.17 215 825C218.83 824.83 224.17 822.83 226 827C227.83 831.17 228.33 845.67 226 850C223.67 854.33 216.67 852.83 212 853C207.33 853.17 200.67 853.67 198 851Z" fill-opacity="0.5" style="filter:blur(1.8px)"/><path d="M202 839a10 8 0 1 0 20 0a10 8 0 1 0 -20 0Z" fill-opacity="0.85" style="filter:blur(1.8px)"/></g></g>
<rect x="83.9" y="775" width="140.1" height="81.5" fill="none" stroke="#141414" stroke-width="1.3"/>
<text transform="translate(76 856.5) rotate(-90)" font-size="8.4" text-anchor="middle" textLength="5" lengthAdjust="spacingAndGlyphs">0</text>
<text transform="translate(76 836.12) rotate(-90)" font-size="8.4" text-anchor="middle" textLength="14.5" lengthAdjust="spacingAndGlyphs">256</text>
<text transform="translate(76 815.75) rotate(-90)" font-size="8.4" text-anchor="middle" textLength="14" lengthAdjust="spacingAndGlyphs">512</text>
<text transform="translate(76 795.38) rotate(-90)" font-size="8.4" text-anchor="middle" textLength="14" lengthAdjust="spacingAndGlyphs">768</text>
<text transform="translate(76 775) rotate(-90)" font-size="8.4" text-anchor="middle" textLength="18.5" lengthAdjust="spacingAndGlyphs">1024</text>
<text x="79.9" y="869" font-size="8.3" textLength="13.5" lengthAdjust="spacingAndGlyphs">10<tspan font-size="7.3" dy="-1.3">0</tspan></text>
<text x="114.93" y="869" font-size="8.3" textLength="13.5" lengthAdjust="spacingAndGlyphs">10<tspan font-size="7.3" dy="-1.3">1</tspan></text>
<text x="149.95" y="869" font-size="8.3" textLength="13.5" lengthAdjust="spacingAndGlyphs">10<tspan font-size="7.3" dy="-1.3">2</tspan></text>
<text x="184.97" y="869" font-size="8.3" textLength="13.5" lengthAdjust="spacingAndGlyphs">10<tspan font-size="7.3" dy="-1.3">3</tspan></text>
<text x="220" y="869" font-size="8.3" textLength="13.5" lengthAdjust="spacingAndGlyphs">10<tspan font-size="7.3" dy="-1.3">4</tspan></text>
<text transform="translate(61.3 858) rotate(-90)" font-size="9.2" textLength="18" lengthAdjust="spacingAndGlyphs">SSC</text>
<text x="81.4" y="879" font-size="9.2" textLength="39.4" lengthAdjust="spacingAndGlyphs">CD38 PE</text>
<text x="89.9" y="788" font-size="10.8">H</text>
<clipPath id="c9"><rect x="84.1" y="883.6" width="138.3" height="78.3"/></clipPath>
<g clip-path="url(#c9)"><g fill="#000" filter="url(#sp1)"><path d="M114 912a7 6 0 1 0 14 0a7 6 0 1 0 -14 0Z" fill-opacity="0.22" style="filter:blur(2px)"/><path d="M82 950C85.83 947 97.83 946.83 105 946C112.17 945.17 119.5 944.33 125 945C130.5 945.67 135.5 946.83 138 950C140.5 953.17 149.33 961.67 140 964C130.67 966.33 91.67 966.33 82 964C72.33 961.67 78.17 953 82 950Z" fill-opacity="0.65" style="filter:blur(2.5px)"/></g><g fill="#000" filter="url(#sp6)"><path d="M158 941a24 14 0 1 0 48 0a24 14 0 1 0 -48 0Z" fill-opacity="0.5" style="filter:blur(2.5px)"/><path d="M172 943a14 9 0 1 0 28 0a14 9 0 1 0 -28 0Z" fill-opacity="0.7" style="filter:blur(1.5px)"/></g><g fill="#000" filter="url(#sp5)"><path d="M136 964C129.17 961.33 135.5 952.33 137 948C138.5 943.67 141.17 940.17 145 938C148.83 935.83 155 934.5 160 935C165 935.5 171.67 937.67 175 941C178.33 944.33 179.5 951.17 180 955C180.5 958.83 185.33 962.5 178 964C170.67 965.5 142.83 966.67 136 964Z" fill-opacity="0.9" style="filter:blur(1.5px)"/><path d="M140 935a12 5 0 1 0 24 0a12 5 0 1 0 -24 0Z" fill-opacity="0.3" style="filter:blur(2px)"/></g><g fill="#000" filter="url(#sp2)"><path d="M111 946a17 10 0 1 0 34 0a17 10 0 1 0 -34 0Z" fill-opacity="0.4" style="filter:blur(2.5px)"/><path d="M118 946a9 6 0 1 0 18 0a9 6 0 1 0 -18 0Z" fill-opacity="0.6" style="filter:blur(1.5px)"/><path d="M139 940a15 7 0 1 0 30 0a15 7 0 1 0 -30 0Z" fill-opacity="0.28" style="filter:blur(2.5px)"/></g></g>
<rect x="83.5" y="883" width="139.5" height="79.5" fill="none" stroke="#141414" stroke-width="1.3"/>
<text transform="translate(76 962.5) rotate(-90)" font-size="8.4" text-anchor="middle" textLength="5" lengthAdjust="spacingAndGlyphs">0</text>
<text transform="translate(76 942.62) rotate(-90)" font-size="8.4" text-anchor="middle" textLength="14.5" lengthAdjust="spacingAndGlyphs">256</text>
<text transform="translate(76 922.75) rotate(-90)" font-size="8.4" text-anchor="middle" textLength="14" lengthAdjust="spacingAndGlyphs">512</text>
<text transform="translate(76 902.88) rotate(-90)" font-size="8.4" text-anchor="middle" textLength="14" lengthAdjust="spacingAndGlyphs">768</text>
<text transform="translate(76 883) rotate(-90)" font-size="8.4" text-anchor="middle" textLength="18.5" lengthAdjust="spacingAndGlyphs">1024</text>
<text x="79.5" y="976.7" font-size="8.3" textLength="13.5" lengthAdjust="spacingAndGlyphs">10<tspan font-size="7.3" dy="-1.3">0</tspan></text>
<text x="114.38" y="976.7" font-size="8.3" textLength="13.5" lengthAdjust="spacingAndGlyphs">10<tspan font-size="7.3" dy="-1.3">1</tspan></text>
<text x="149.25" y="976.7" font-size="8.3" textLength="13.5" lengthAdjust="spacingAndGlyphs">10<tspan font-size="7.3" dy="-1.3">2</tspan></text>
<text x="184.12" y="976.7" font-size="8.3" textLength="13.5" lengthAdjust="spacingAndGlyphs">10<tspan font-size="7.3" dy="-1.3">3</tspan></text>
<text x="219" y="976.7" font-size="8.3" textLength="13.5" lengthAdjust="spacingAndGlyphs">10<tspan font-size="7.3" dy="-1.3">4</tspan></text>
<text transform="translate(61.3 964) rotate(-90)" font-size="9.2" textLength="19" lengthAdjust="spacingAndGlyphs">SSC</text>
<text x="81" y="986.9" font-size="9.2" textLength="52" lengthAdjust="spacingAndGlyphs">CD20 FITC</text>
<text x="89" y="896" font-size="11" style="font-family:'Liberation Serif', serif">I</text>
<clipPath id="c10"><rect x="283.7" y="26.5" width="140.7" height="74.7"/></clipPath>
<g clip-path="url(#c10)"><g fill="#d0d0d0"><path d="M318 91.5C318.17 90.5 319.33 88.33 321 87C322.67 85.67 325.67 84.17 328 83.5C330.33 82.83 333.83 82.33 335 83C336.17 83.67 336.5 86.17 335 87.5C333.5 88.83 328.5 90.08 326 91C323.5 91.92 321.33 92.92 320 93C318.67 93.08 317.83 92.5 318 91.5Z" fill-opacity="0.95" style="filter:blur(1.3px)"/></g><g fill="#000" filter="url(#sp2)"><path d="M333 84.5L352 82L373 79L374.5 83.5L352 86.5L333 88.5Z" style="filter:blur(0.9px)"/><path d="M378.3 81.5a0.7 0.7 0 1 0 1.4 0a0.7 0.7 0 1 0 -1.4 0Z" style="filter:blur(0.2px)"/></g></g>
<rect x="283.1" y="25.9" width="141.9" height="75.9" fill="none" stroke="#141414" stroke-width="1.3"/>
<text transform="translate(274.8 101.8) rotate(-90)" font-size="8.4" text-anchor="middle" textLength="5" lengthAdjust="spacingAndGlyphs">0</text>
<text transform="translate(274.8 82.82) rotate(-90)" font-size="8.4" text-anchor="middle" textLength="13.5" lengthAdjust="spacingAndGlyphs">256</text>
<text transform="translate(274.8 63.85) rotate(-90)" font-size="8.4" text-anchor="middle" textLength="13.5" lengthAdjust="spacingAndGlyphs">512</text>
<text transform="translate(274.8 44.87) rotate(-90)" font-size="8.4" text-anchor="middle" textLength="13.5" lengthAdjust="spacingAndGlyphs">768</text>
<text transform="translate(274.8 25.9) rotate(-90)" font-size="8.4" text-anchor="middle" textLength="18.5" lengthAdjust="spacingAndGlyphs">1024</text>
<text x="284.6" y="113" font-size="8.2" text-anchor="middle" textLength="4.8" lengthAdjust="spacingAndGlyphs">0</text>
<text x="320.7" y="113" font-size="8.2" text-anchor="middle" textLength="14" lengthAdjust="spacingAndGlyphs">256</text>
<text x="353.62" y="113" font-size="8.2" text-anchor="middle" textLength="14" lengthAdjust="spacingAndGlyphs">512</text>
<text x="386.55" y="113" font-size="8.2" text-anchor="middle" textLength="14" lengthAdjust="spacingAndGlyphs">768</text>
<text x="417.62" y="113" font-size="8.2" text-anchor="middle" textLength="19" lengthAdjust="spacingAndGlyphs">1024</text>
<text x="287.8" y="40.1" font-size="9.3" font-weight="normal" style="fill:#e46a78;stroke:#e46a78;stroke-width:0.5px" textLength="65" lengthAdjust="spacingAndGlyphs">CD45<tspan font-size="6" dy="-3.2">lo</tspan><tspan dy="3.2">/CD19<tspan font-size="6" dy="-3.2">lo</tspan><tspan dy="3.2"></tspan></text>
<text x="287.8" y="50.4" font-size="9.3" font-weight="normal" style="fill:#e46a78;stroke:#e46a78;stroke-width:0.5px" textLength="80" lengthAdjust="spacingAndGlyphs">B-cell precursors</text>
<text x="418.8" y="38.7" font-size="11.5" text-anchor="end">J</text>
<clipPath id="c11"><rect x="284.6" y="127.2" width="138.8" height="71.7"/></clipPath>
<g clip-path="url(#c11)"><g fill="#d0d0d0"><path d="M318 190C318.33 189 320 186.83 322 185.5C324 184.17 327.33 182.75 330 182C332.67 181.25 336.67 180.42 338 181C339.33 181.58 339.67 184.08 338 185.5C336.33 186.92 331 188.5 328 189.5C325 190.5 321.67 191.42 320 191.5C318.33 191.58 317.67 191 318 190Z" fill-opacity="0.95" style="filter:blur(1.3px)"/></g><g fill="#000" filter="url(#sp2)"><path d="M339 182L356 181.5L373 179.5L373.5 182.5L356 184.5L339 185Z" fill-opacity="0.92" style="filter:blur(0.7px)"/></g></g>
<rect x="284" y="126.6" width="140" height="72.9" fill="none" stroke="#141414" stroke-width="1.3"/>
<text transform="translate(275.7 199.5) rotate(-90)" font-size="8.4" text-anchor="middle" textLength="5" lengthAdjust="spacingAndGlyphs">0</text>
<text transform="translate(275.7 181.28) rotate(-90)" font-size="8.4" text-anchor="middle" textLength="13.5" lengthAdjust="spacingAndGlyphs">256</text>
<text transform="translate(275.7 163.05) rotate(-90)" font-size="8.4" text-anchor="middle" textLength="13.5" lengthAdjust="spacingAndGlyphs">512</text>
<text transform="translate(275.7 144.82) rotate(-90)" font-size="8.4" text-anchor="middle" textLength="13.5" lengthAdjust="spacingAndGlyphs">768</text>
<text transform="translate(275.7 126.6) rotate(-90)" font-size="8.4" text-anchor="middle" textLength="18.5" lengthAdjust="spacingAndGlyphs">1024</text>
<text x="285.48" y="210.7" font-size="8.2" text-anchor="middle" textLength="4.8" lengthAdjust="spacingAndGlyphs">0</text>
<text x="321.1" y="210.7" font-size="8.2" text-anchor="middle" textLength="14" lengthAdjust="spacingAndGlyphs">256</text>
<text x="353.58" y="210.7" font-size="8.2" text-anchor="middle" textLength="14" lengthAdjust="spacingAndGlyphs">512</text>
<text x="386.06" y="210.7" font-size="8.2" text-anchor="middle" textLength="14" lengthAdjust="spacingAndGlyphs">768</text>
<text x="416.72" y="210.7" font-size="8.2" text-anchor="middle" textLength="19" lengthAdjust="spacingAndGlyphs">1024</text>
<text x="288.2" y="140.8" font-size="9.3" font-weight="normal" style="fill:#5b6fb4;stroke:#5b6fb4;stroke-width:0.5px" textLength="67.4" lengthAdjust="spacingAndGlyphs">CD45<tspan font-size="6" dy="-3.2">+</tspan><tspan dy="3.2">/CD19<tspan font-size="6" dy="-3.2">hi</tspan><tspan dy="3.2"></tspan></text>
<text x="288.2" y="151.1" font-size="9.3" font-weight="normal" style="fill:#5b6fb4;stroke:#5b6fb4;stroke-width:0.5px" textLength="79.5" lengthAdjust="spacingAndGlyphs">B-cell precursors</text>
<text x="417.8" y="139.4" font-size="11.5" text-anchor="end">K</text>
<clipPath id="c12"><rect x="285.8" y="227.9" width="139.4" height="73.8"/></clipPath>
<g clip-path="url(#c12)"><g fill="#d0d0d0"><path d="M333.74 285.56L333.84 286.36L333.71 287.2L333.37 288.04L332.81 288.87L332.07 289.66L331.15 290.38L330.1 291.01L328.93 291.54L327.69 291.94L326.41 292.21L325.14 292.34L323.91 292.32L322.76 292.15L321.72 291.84L320.82 291.4L320.1 290.84L319.57 290.18L319.26 289.44L319.16 288.64L319.29 287.8L319.63 286.96L320.19 286.13L320.93 285.34L321.85 284.62L322.9 283.99L324.07 283.46L325.31 283.06L326.59 282.79L327.86 282.66L329.09 282.68L330.24 282.85L331.28 283.16L332.18 283.6L332.9 284.16L333.43 284.82Z" fill-opacity="0.95" style="filter:blur(1.3px)"/></g><g fill="#000" filter="url(#sp2)"><path d="M337.2 288.5a0.8 0.8 0 1 0 1.6 0a0.8 0.8 0 1 0 -1.6 0Z" fill-opacity="0.7" style="filter:blur(0.3px)"/><path d="M341.2 285a0.8 0.8 0 1 0 1.6 0a0.8 0.8 0 1 0 -1.6 0Z" fill-opacity="0.7" style="filter:blur(0.3px)"/><path d="M358.7 285.5a0.8 0.8 0 1 0 1.6 0a0.8 0.8 0 1 0 -1.6 0Z" fill-opacity="0.7" style="filter:blur(0.3px)"/><path d="M365.2 282a0.8 0.8 0 1 0 1.6 0a0.8 0.8 0 1 0 -1.6 0Z" fill-opacity="0.7" style="filter:blur(0.3px)"/><path d="M371.2 280.5a0.8 0.8 0 1 0 1.6 0a0.8 0.8 0 1 0 -1.6 0Z" fill-opacity="0.7" style="filter:blur(0.3px)"/></g></g>
<rect x="285.2" y="227.3" width="140.6" height="75" fill="none" stroke="#141414" stroke-width="1.3"/>
<text transform="translate(276.9 302.3) rotate(-90)" font-size="8.4" text-anchor="middle" textLength="5" lengthAdjust="spacingAndGlyphs">0</text>
<text transform="translate(276.9 283.55) rotate(-90)" font-size="8.4" text-anchor="middle" textLength="13.5" lengthAdjust="spacingAndGlyphs">256</text>
<text transform="translate(276.9 264.8) rotate(-90)" font-size="8.4" text-anchor="middle" textLength="13.5" lengthAdjust="spacingAndGlyphs">512</text>
<text transform="translate(276.9 246.05) rotate(-90)" font-size="8.4" text-anchor="middle" textLength="13.5" lengthAdjust="spacingAndGlyphs">768</text>
<text transform="translate(276.9 227.3) rotate(-90)" font-size="8.4" text-anchor="middle" textLength="18.5" lengthAdjust="spacingAndGlyphs">1024</text>
<text x="286.69" y="313.5" font-size="8.2" text-anchor="middle" textLength="4.8" lengthAdjust="spacingAndGlyphs">0</text>
<text x="322.46" y="313.5" font-size="8.2" text-anchor="middle" textLength="14" lengthAdjust="spacingAndGlyphs">256</text>
<text x="355.08" y="313.5" font-size="8.2" text-anchor="middle" textLength="14" lengthAdjust="spacingAndGlyphs">512</text>
<text x="387.7" y="313.5" font-size="8.2" text-anchor="middle" textLength="14" lengthAdjust="spacingAndGlyphs">768</text>
<text x="418.49" y="313.5" font-size="8.2" text-anchor="middle" textLength="19" lengthAdjust="spacingAndGlyphs">1024</text>
<text x="291.5" y="241.5" font-size="9.3" font-weight="normal" style="fill:#141414;stroke:#141414;stroke-width:0.5px" textLength="64" lengthAdjust="spacingAndGlyphs">CD45<tspan font-size="6" dy="-3.2">hi</tspan><tspan dy="3.2">/CD19<tspan font-size="6" dy="-3.2">+</tspan><tspan dy="3.2"></tspan></text>
<text x="291.5" y="251.8" font-size="9.3" font-weight="normal" style="fill:#141414;stroke:#141414;stroke-width:0.5px" textLength="68" lengthAdjust="spacingAndGlyphs">B-lymphocytes</text>
<text x="419.6" y="240.1" font-size="11.5" text-anchor="end">L</text>
<clipPath id="c13"><rect x="285.8" y="327.1" width="139.4" height="74.1"/></clipPath>
<g clip-path="url(#c13)"><g fill="#d0d0d0"><path d="M311 395C311 393.67 314.83 390.42 318 389C321.17 387.58 327 386.67 330 386.5C333 386.33 336 386.92 336 388C336 389.08 333 391.5 330 393C327 394.5 321.17 396.67 318 397C314.83 397.33 311 396.33 311 395Z" fill-opacity="0.95" style="filter:blur(1.3px)"/></g><g fill="#000" filter="url(#sp2)"><path d="M334 389L352 385L370 381L371 383.5L352 388L335 392Z" fill-opacity="0.7" style="filter:blur(1px)"/></g></g>
<rect x="285.2" y="326.5" width="140.6" height="75.3" fill="none" stroke="#141414" stroke-width="1.3"/>
<text transform="translate(276.9 401.8) rotate(-90)" font-size="8.4" text-anchor="middle" textLength="5" lengthAdjust="spacingAndGlyphs">0</text>
<text transform="translate(276.9 382.98) rotate(-90)" font-size="8.4" text-anchor="middle" textLength="13.5" lengthAdjust="spacingAndGlyphs">256</text>
<text transform="translate(276.9 364.15) rotate(-90)" font-size="8.4" text-anchor="middle" textLength="13.5" lengthAdjust="spacingAndGlyphs">512</text>
<text transform="translate(276.9 345.32) rotate(-90)" font-size="8.4" text-anchor="middle" textLength="13.5" lengthAdjust="spacingAndGlyphs">768</text>
<text transform="translate(276.9 326.5) rotate(-90)" font-size="8.4" text-anchor="middle" textLength="18.5" lengthAdjust="spacingAndGlyphs">1024</text>
<text x="286.69" y="413" font-size="8.2" text-anchor="middle" textLength="4.8" lengthAdjust="spacingAndGlyphs">0</text>
<text x="322.46" y="413" font-size="8.2" text-anchor="middle" textLength="14" lengthAdjust="spacingAndGlyphs">256</text>
<text x="355.08" y="413" font-size="8.2" text-anchor="middle" textLength="14" lengthAdjust="spacingAndGlyphs">512</text>
<text x="387.7" y="413" font-size="8.2" text-anchor="middle" textLength="14" lengthAdjust="spacingAndGlyphs">768</text>
<text x="418.49" y="413" font-size="8.2" text-anchor="middle" textLength="19" lengthAdjust="spacingAndGlyphs">1024</text>
<text x="289" y="340.7" font-size="9.3" font-weight="normal" style="fill:#e67a6c;stroke:#e67a6c;stroke-width:0.5px" textLength="68.3" lengthAdjust="spacingAndGlyphs">CD38<tspan font-size="6" dy="-3.2">++</tspan><tspan dy="3.2">/CD19<tspan font-size="6" dy="-3.2">+</tspan><tspan dy="3.2"></tspan></text>
<text x="289" y="351" font-size="9.3" font-weight="normal" style="fill:#e67a6c;stroke:#e67a6c;stroke-width:0.5px" textLength="55.4" lengthAdjust="spacingAndGlyphs">Plasma cells</text>
<text x="419.6" y="339.3" font-size="11.5" text-anchor="end">M</text>
<clipPath id="c14"><rect x="287.1" y="448.6" width="140.3" height="81.5"/></clipPath>
<g clip-path="url(#c14)"><g fill="#d6d6d6"><path d="M329.13 514.59L329.69 515.37L330.11 516.22L330.38 517.12L330.51 518.05L330.47 518.96L330.28 519.84L329.93 520.66L329.45 521.39L328.84 522.01L328.12 522.51L327.31 522.86L326.45 523.06L325.55 523.09L324.64 522.97L323.75 522.69L322.91 522.26L322.14 521.7L321.47 521.01L320.91 520.23L320.49 519.38L320.22 518.48L320.09 517.55L320.13 516.64L320.32 515.76L320.67 514.94L321.15 514.21L321.76 513.59L322.48 513.09L323.29 512.74L324.15 512.54L325.05 512.51L325.96 512.63L326.85 512.91L327.69 513.34L328.46 513.9Z" fill-opacity="0.9" style="filter:blur(1.3px)"/></g></g>
<rect x="286.5" y="448" width="141.5" height="82.7" fill="none" stroke="#141414" stroke-width="1.3"/>
<text transform="translate(278.2 530.7) rotate(-90)" font-size="8.4" text-anchor="middle" textLength="5" lengthAdjust="spacingAndGlyphs">0</text>
<text transform="translate(278.2 510.03) rotate(-90)" font-size="8.4" text-anchor="middle" textLength="13.5" lengthAdjust="spacingAndGlyphs">256</text>
<text transform="translate(278.2 489.35) rotate(-90)" font-size="8.4" text-anchor="middle" textLength="13.5" lengthAdjust="spacingAndGlyphs">512</text>
<text transform="translate(278.2 468.68) rotate(-90)" font-size="8.4" text-anchor="middle" textLength="13.5" lengthAdjust="spacingAndGlyphs">768</text>
<text transform="translate(278.2 448) rotate(-90)" font-size="8.4" text-anchor="middle" textLength="18.5" lengthAdjust="spacingAndGlyphs">1024</text>
<text x="288" y="541.9" font-size="8.2" text-anchor="middle" textLength="4.8" lengthAdjust="spacingAndGlyphs">0</text>
<text x="324" y="541.9" font-size="8.2" text-anchor="middle" textLength="14" lengthAdjust="spacingAndGlyphs">256</text>
<text x="356.83" y="541.9" font-size="8.2" text-anchor="middle" textLength="14" lengthAdjust="spacingAndGlyphs">512</text>
<text x="389.65" y="541.9" font-size="8.2" text-anchor="middle" textLength="14" lengthAdjust="spacingAndGlyphs">768</text>
<text x="420.64" y="541.9" font-size="8.2" text-anchor="middle" textLength="19" lengthAdjust="spacingAndGlyphs">1024</text>
<text x="292.5" y="462.2" font-size="9.3" font-weight="normal" style="fill:#141414;stroke:#141414;stroke-width:0.5px" textLength="68" lengthAdjust="spacingAndGlyphs">CD20+/CD23+</text>
<text x="292.5" y="472.5" font-size="9.3" font-weight="normal" style="fill:#141414;stroke:#141414;stroke-width:0.5px" textLength="68" lengthAdjust="spacingAndGlyphs">B-lymphocytes</text>
<text x="421.8" y="460.8" font-size="11.5" text-anchor="end">N</text>
<clipPath id="c15"><rect x="287.1" y="551.2" width="140.3" height="81.5"/></clipPath>
<g clip-path="url(#c15)"><g fill="#d6d6d6"><path d="M329.13 617.59L329.69 618.37L330.11 619.22L330.38 620.12L330.51 621.05L330.47 621.96L330.28 622.84L329.93 623.66L329.45 624.39L328.84 625.01L328.12 625.51L327.31 625.86L326.45 626.06L325.55 626.09L324.64 625.97L323.75 625.69L322.91 625.26L322.14 624.7L321.47 624.01L320.91 623.23L320.49 622.38L320.22 621.48L320.09 620.55L320.13 619.64L320.32 618.76L320.67 617.94L321.15 617.21L321.76 616.59L322.48 616.09L323.29 615.74L324.15 615.54L325.05 615.51L325.96 615.63L326.85 615.91L327.69 616.34L328.46 616.9Z" fill-opacity="0.9" style="filter:blur(1.3px)"/></g></g>
<rect x="286.5" y="550.6" width="141.5" height="82.7" fill="none" stroke="#141414" stroke-width="1.3"/>
<text transform="translate(278.2 633.3) rotate(-90)" font-size="8.4" text-anchor="middle" textLength="5" lengthAdjust="spacingAndGlyphs">0</text>
<text transform="translate(278.2 612.62) rotate(-90)" font-size="8.4" text-anchor="middle" textLength="13.5" lengthAdjust="spacingAndGlyphs">256</text>
<text transform="translate(278.2 591.95) rotate(-90)" font-size="8.4" text-anchor="middle" textLength="13.5" lengthAdjust="spacingAndGlyphs">512</text>
<text transform="translate(278.2 571.27) rotate(-90)" font-size="8.4" text-anchor="middle" textLength="13.5" lengthAdjust="spacingAndGlyphs">768</text>
<text transform="translate(278.2 550.6) rotate(-90)" font-size="8.4" text-anchor="middle" textLength="18.5" lengthAdjust="spacingAndGlyphs">1024</text>
<text x="288" y="644.5" font-size="8.2" text-anchor="middle" textLength="4.8" lengthAdjust="spacingAndGlyphs">0</text>
<text x="324" y="644.5" font-size="8.2" text-anchor="middle" textLength="14" lengthAdjust="spacingAndGlyphs">256</text>
<text x="356.83" y="644.5" font-size="8.2" text-anchor="middle" textLength="14" lengthAdjust="spacingAndGlyphs">512</text>
<text x="389.65" y="644.5" font-size="8.2" text-anchor="middle" textLength="14" lengthAdjust="spacingAndGlyphs">768</text>
<text x="420.64" y="644.5" font-size="8.2" text-anchor="middle" textLength="19" lengthAdjust="spacingAndGlyphs">1024</text>
<text x="291" y="564.8" font-size="9.3" font-weight="normal" style="fill:#5b6fb4;stroke:#5b6fb4;stroke-width:0.5px" textLength="64" lengthAdjust="spacingAndGlyphs">CD20+/CD23-</text>
<text x="291" y="575.1" font-size="9.3" font-weight="normal" style="fill:#5b6fb4;stroke:#5b6fb4;stroke-width:0.5px" textLength="67.6" lengthAdjust="spacingAndGlyphs">B-lymphocytes</text>
<text x="421.8" y="563.4" font-size="11.5" text-anchor="end">O</text>
<clipPath id="c16"><rect x="285.6" y="677.7" width="148.4" height="79.3"/></clipPath>
<g clip-path="url(#c16)"><g fill="#d0d0d0"><path d="M315 751C314.67 749.75 316.17 746.92 318 745C319.83 743.08 322.83 740.92 326 739.5C329.17 738.08 334.33 736.83 337 736.5C339.67 736.17 341.33 736.42 342 737.5C342.67 738.58 343 741.25 341 743C339 744.75 333.5 746.42 330 748C326.5 749.58 322.5 752 320 752.5C317.5 753 315.33 752.25 315 751Z" fill-opacity="0.95" style="filter:blur(1.5px)"/></g><g fill="#000" filter="url(#sp2)"><path d="M342 740.5L362 738L385 734L386.5 738.5L362 742.5L342 745.5Z" style="filter:blur(0.7px)"/></g></g>
<rect x="285" y="677.1" width="149.6" height="80.5" fill="none" stroke="#141414" stroke-width="1.3"/>
<text transform="translate(276.7 757.6) rotate(-90)" font-size="8.4" text-anchor="middle" textLength="5" lengthAdjust="spacingAndGlyphs">0</text>
<text transform="translate(276.7 737.48) rotate(-90)" font-size="8.4" text-anchor="middle" textLength="13.5" lengthAdjust="spacingAndGlyphs">256</text>
<text transform="translate(276.7 717.35) rotate(-90)" font-size="8.4" text-anchor="middle" textLength="13.5" lengthAdjust="spacingAndGlyphs">512</text>
<text transform="translate(276.7 697.23) rotate(-90)" font-size="8.4" text-anchor="middle" textLength="13.5" lengthAdjust="spacingAndGlyphs">768</text>
<text transform="translate(276.7 677.1) rotate(-90)" font-size="8.4" text-anchor="middle" textLength="18.5" lengthAdjust="spacingAndGlyphs">1024</text>
<text x="286.59" y="768.8" font-size="8.2" text-anchor="middle" textLength="4.8" lengthAdjust="spacingAndGlyphs">0</text>
<text x="324.64" y="768.8" font-size="8.2" text-anchor="middle" textLength="14" lengthAdjust="spacingAndGlyphs">256</text>
<text x="359.35" y="768.8" font-size="8.2" text-anchor="middle" textLength="14" lengthAdjust="spacingAndGlyphs">512</text>
<text x="394.06" y="768.8" font-size="8.2" text-anchor="middle" textLength="14" lengthAdjust="spacingAndGlyphs">768</text>
<text x="426.82" y="768.8" font-size="8.2" text-anchor="middle" textLength="19" lengthAdjust="spacingAndGlyphs">1024</text>
<text x="289.8" y="691.3" font-size="9.3" font-weight="normal" style="fill:#e46a78;stroke:#e46a78;stroke-width:0.5px" textLength="65.8" lengthAdjust="spacingAndGlyphs">CD38<tspan font-size="6" dy="-3.2">lo</tspan><tspan dy="3.2">/CD20+</tspan></text>
<text x="289.8" y="701.6" font-size="9.3" font-weight="normal" style="fill:#e46a78;stroke:#e46a78;stroke-width:0.5px" textLength="67.2" lengthAdjust="spacingAndGlyphs">B-lymphocytes</text>
<text x="428.4" y="689.9" font-size="11.5" text-anchor="end">P</text>
<clipPath id="c17"><rect x="285.6" y="778.1" width="145.3" height="81.8"/></clipPath>
<g clip-path="url(#c17)"><g fill="#d0d0d0"><path d="M314.5 852C313.67 850.75 317.75 847.67 320 846C322.25 844.33 325.33 842.83 328 842C330.67 841.17 334.67 839.67 336 841C337.33 842.33 337.83 847.92 336 850C334.17 852.08 328.58 853.17 325 853.5C321.42 853.83 315.33 853.25 314.5 852Z" fill-opacity="0.95" style="filter:blur(1.3px)"/></g><g fill="#000" filter="url(#sp2)"><path d="M332 842L355 839.5L374 836.5L375 842L355 845.5L333 849Z" style="filter:blur(0.6px)"/></g></g>
<rect x="285" y="777.5" width="146.5" height="83" fill="none" stroke="#141414" stroke-width="1.3"/>
<text transform="translate(276.7 860.5) rotate(-90)" font-size="8.4" text-anchor="middle" textLength="5" lengthAdjust="spacingAndGlyphs">0</text>
<text transform="translate(276.7 839.75) rotate(-90)" font-size="8.4" text-anchor="middle" textLength="13.5" lengthAdjust="spacingAndGlyphs">256</text>
<text transform="translate(276.7 819) rotate(-90)" font-size="8.4" text-anchor="middle" textLength="13.5" lengthAdjust="spacingAndGlyphs">512</text>
<text transform="translate(276.7 798.25) rotate(-90)" font-size="8.4" text-anchor="middle" textLength="13.5" lengthAdjust="spacingAndGlyphs">768</text>
<text transform="translate(276.7 777.5) rotate(-90)" font-size="8.4" text-anchor="middle" textLength="18.5" lengthAdjust="spacingAndGlyphs">1024</text>
<text x="286.55" y="871.7" font-size="8.2" text-anchor="middle" textLength="4.8" lengthAdjust="spacingAndGlyphs">0</text>
<text x="323.82" y="871.7" font-size="8.2" text-anchor="middle" textLength="14" lengthAdjust="spacingAndGlyphs">256</text>
<text x="357.81" y="871.7" font-size="8.2" text-anchor="middle" textLength="14" lengthAdjust="spacingAndGlyphs">512</text>
<text x="391.8" y="871.7" font-size="8.2" text-anchor="middle" textLength="14" lengthAdjust="spacingAndGlyphs">768</text>
<text x="423.88" y="871.7" font-size="8.2" text-anchor="middle" textLength="19" lengthAdjust="spacingAndGlyphs">1024</text>
<text x="294" y="791.7" font-size="9.3" font-weight="normal" style="fill:#5b6fb4;stroke:#5b6fb4;stroke-width:0.5px" textLength="68.4" lengthAdjust="spacingAndGlyphs">CD38+/CD20<tspan font-size="6" dy="-3.2">hi</tspan><tspan dy="3.2"></tspan></text>
<text x="294" y="802" font-size="9.3" font-weight="normal" style="fill:#5b6fb4;stroke:#5b6fb4;stroke-width:0.5px" textLength="67.5" lengthAdjust="spacingAndGlyphs">B-lymphocytes</text>
<text x="425.3" y="790.3" font-size="11.5" text-anchor="end">Q</text>
<clipPath id="c18"><rect x="285.6" y="880.1" width="148.4" height="79.8"/></clipPath>
<g clip-path="url(#c18)"><g fill="#d0d0d0"><path d="M314.5 951C313.5 949.75 317.42 946.67 320 945C322.58 943.33 326.5 941.83 330 941C333.5 940.17 339.17 938.83 341 940C342.83 941.17 343.5 945.92 341 948C338.5 950.08 330.42 952 326 952.5C321.58 953 315.5 952.25 314.5 951Z" fill-opacity="0.95" style="filter:blur(1.3px)"/></g><g fill="#000" filter="url(#sp2)"><path d="M342 943L360 941L380 937L381 940L360 945L342 947.5Z" fill-opacity="0.6" style="filter:blur(1.2px)"/></g></g>
<rect x="285" y="879.5" width="149.6" height="81" fill="none" stroke="#141414" stroke-width="1.3"/>
<text transform="translate(276.7 960.5) rotate(-90)" font-size="8.4" text-anchor="middle" textLength="5" lengthAdjust="spacingAndGlyphs">0</text>
<text transform="translate(276.7 940.25) rotate(-90)" font-size="8.4" text-anchor="middle" textLength="13.5" lengthAdjust="spacingAndGlyphs">256</text>
<text transform="translate(276.7 920) rotate(-90)" font-size="8.4" text-anchor="middle" textLength="13.5" lengthAdjust="spacingAndGlyphs">512</text>
<text transform="translate(276.7 899.75) rotate(-90)" font-size="8.4" text-anchor="middle" textLength="13.5" lengthAdjust="spacingAndGlyphs">768</text>
<text transform="translate(276.7 879.5) rotate(-90)" font-size="8.4" text-anchor="middle" textLength="18.5" lengthAdjust="spacingAndGlyphs">1024</text>
<text x="286.59" y="971.7" font-size="8.2" text-anchor="middle" textLength="4.8" lengthAdjust="spacingAndGlyphs">0</text>
<text x="324.64" y="971.7" font-size="8.2" text-anchor="middle" textLength="14" lengthAdjust="spacingAndGlyphs">256</text>
<text x="359.35" y="971.7" font-size="8.2" text-anchor="middle" textLength="14" lengthAdjust="spacingAndGlyphs">512</text>
<text x="394.06" y="971.7" font-size="8.2" text-anchor="middle" textLength="14" lengthAdjust="spacingAndGlyphs">768</text>
<text x="426.82" y="971.7" font-size="8.2" text-anchor="middle" textLength="19" lengthAdjust="spacingAndGlyphs">1024</text>
<text x="295.7" y="893.7" font-size="9.3" font-weight="normal" style="fill:#141414;stroke:#141414;stroke-width:0.5px" textLength="76" lengthAdjust="spacingAndGlyphs">CD38<tspan font-size="6" dy="-3.2">hi</tspan><tspan dy="3.2">/CD20<tspan font-size="6" dy="-3.2">-/lo</tspan><tspan dy="3.2"></tspan></text>
<text x="295.7" y="904" font-size="9.3" font-weight="normal" style="fill:#141414;stroke:#141414;stroke-width:0.5px" textLength="54" lengthAdjust="spacingAndGlyphs">Plasma cells</text>
<text x="428.4" y="892.3" font-size="11.5" text-anchor="end">R</text>
<line x1="260.5" y1="21.8" x2="260.5" y2="413.6" stroke="#141414" stroke-width="1.3"/>
<path d="M260.5 14.8L256.5 22.8L264.5 22.8Z" fill="#141414"/>
<line x1="260.5" y1="413.6" x2="434" y2="413.6" stroke="#141414" stroke-width="1.3"/>
<path d="M441 413.6L433 409.6L433 417.6Z" fill="#141414"/>
<text transform="translate(247.8 302.9) rotate(-90)" font-size="9.6" textLength="144.1" lengthAdjust="spacingAndGlyphs">DRAQ5 fluorescence width</text>
<text x="261" y="427" font-size="9.6" textLength="138.6" lengthAdjust="spacingAndGlyphs">DRAQ5 fluorescence area</text>
<line x1="263.6" y1="450.2" x2="263.6" y2="645.8" stroke="#141414" stroke-width="1.3"/>
<path d="M263.6 443.2L259.6 451.2L267.6 451.2Z" fill="#141414"/>
<line x1="263.6" y1="645.8" x2="443" y2="645.8" stroke="#141414" stroke-width="1.3"/>
<path d="M450 645.8L442 641.8L442 649.8Z" fill="#141414"/>
<text transform="translate(249.5 640.7) rotate(-90)" font-size="9.6" textLength="144.2" lengthAdjust="spacingAndGlyphs">DRAQ5 fluorescence width</text>
<text x="262" y="656.5" font-size="9.6" textLength="138.4" lengthAdjust="spacingAndGlyphs">DRAQ5 fluorescence area</text>
<line x1="267" y1="679.7" x2="267" y2="976.2" stroke="#141414" stroke-width="1.3"/>
<path d="M267 672.7L263 680.7L271 680.7Z" fill="#141414"/>
<line x1="267" y1="976.2" x2="440.5" y2="976.2" stroke="#141414" stroke-width="1.3"/>
<path d="M447.5 976.2L439.5 972.2L439.5 980.2Z" fill="#141414"/>
<text transform="translate(250.3 905.4) rotate(-90)" font-size="9.6" textLength="143.4" lengthAdjust="spacingAndGlyphs">DRAQ5 fluorescence width</text>
<text x="264.6" y="987.7" font-size="9.6" textLength="137.4" lengthAdjust="spacingAndGlyphs">DRAQ5 fluorescence area</text>
<path d="M80.2 99.8L87.2 99.8M83.6 95.2L87.2 95.2M83.6 90.6L87.2 90.6M83.6 86L87.2 86M80.2 81.4L87.2 81.4M83.6 76.8L87.2 76.8M83.6 72.2L87.2 72.2M83.6 67.6L87.2 67.6M80.2 63L87.2 63M83.6 58.4L87.2 58.4M83.6 53.8L87.2 53.8M83.6 49.2L87.2 49.2M80.2 44.6L87.2 44.6M83.6 40L87.2 40M83.6 35.4L87.2 35.4M83.6 30.8L87.2 30.8M80.2 26.2L87.2 26.2M87.2 99.8L87.2 103M93.93 99.8L93.93 101.6M100.66 99.8L100.66 101.6M107.39 99.8L107.39 101.6M114.12 99.8L114.12 101.6M120.85 99.8L120.85 103M127.58 99.8L127.58 101.6M134.31 99.8L134.31 101.6M141.04 99.8L141.04 101.6M147.77 99.8L147.77 101.6M154.5 99.8L154.5 103M161.23 99.8L161.23 101.6M167.96 99.8L167.96 101.6M174.69 99.8L174.69 101.6M181.42 99.8L181.42 101.6M188.15 99.8L188.15 103M194.88 99.8L194.88 101.6M201.61 99.8L201.61 101.6M208.34 99.8L208.34 101.6M215.07 99.8L215.07 101.6M221.8 99.8L221.8 103M79.8 203L86.8 203M83.2 198.24L86.8 198.24M83.2 193.47L86.8 193.47M83.2 188.71L86.8 188.71M79.8 183.95L86.8 183.95M83.2 179.19L86.8 179.19M83.2 174.43L86.8 174.43M83.2 169.66L86.8 169.66M79.8 164.9L86.8 164.9M83.2 160.14L86.8 160.14M83.2 155.38L86.8 155.38M83.2 150.61L86.8 150.61M79.8 145.85L86.8 145.85M83.2 141.09L86.8 141.09M83.2 136.32L86.8 136.32M83.2 131.56L86.8 131.56M79.8 126.8L86.8 126.8M86.8 203L86.8 206.5M103.53 203L103.53 205M120.25 203L120.25 206.5M136.97 203L136.97 205M153.7 203L153.7 206.5M170.43 203L170.43 205M187.15 203L187.15 206.5M203.88 203L203.88 205M220.6 203L220.6 206.5M80.8 305.6L87.8 305.6M84.2 300.97L87.8 300.97M84.2 296.34L87.8 296.34M84.2 291.71L87.8 291.71M80.8 287.08L87.8 287.08M84.2 282.44L87.8 282.44M84.2 277.81L87.8 277.81M84.2 273.18L87.8 273.18M80.8 268.55L87.8 268.55M84.2 263.92L87.8 263.92M84.2 259.29L87.8 259.29M84.2 254.66L87.8 254.66M80.8 250.03L87.8 250.03M84.2 245.39L87.8 245.39M84.2 240.76L87.8 240.76M84.2 236.13L87.8 236.13M80.8 231.5L87.8 231.5M87.8 305.6L87.8 308.8M94.38 305.6L94.38 307.4M100.97 305.6L100.97 307.4M107.55 305.6L107.55 307.4M114.14 305.6L114.14 307.4M120.72 305.6L120.72 308.8M127.31 305.6L127.31 307.4M133.89 305.6L133.89 307.4M140.48 305.6L140.48 307.4M147.06 305.6L147.06 307.4M153.65 305.6L153.65 308.8M160.23 305.6L160.23 307.4M166.82 305.6L166.82 307.4M173.4 305.6L173.4 307.4M179.99 305.6L179.99 307.4M186.57 305.6L186.57 308.8M193.16 305.6L193.16 307.4M199.74 305.6L199.74 307.4M206.33 305.6L206.33 307.4M212.91 305.6L212.91 307.4M219.5 305.6L219.5 308.8M80.5 405.3L87.5 405.3M83.9 401.66L87.5 401.66M83.9 398.01L87.5 398.01M83.9 394.37L87.5 394.37M83.9 390.72L87.5 390.72M80.5 387.07L87.5 387.07M83.9 383.43L87.5 383.43M83.9 379.79L87.5 379.79M83.9 376.14L87.5 376.14M83.9 372.5L87.5 372.5M80.5 368.85L87.5 368.85M83.9 365.2L87.5 365.2M83.9 361.56L87.5 361.56M83.9 357.91L87.5 357.91M83.9 354.27L87.5 354.27M80.5 350.62L87.5 350.62M83.9 346.98L87.5 346.98M83.9 343.33L87.5 343.33M83.9 339.69L87.5 339.69M83.9 336.04L87.5 336.04M80.5 332.4L87.5 332.4M87.5 405.3L87.5 408.5M94.06 405.3L94.06 407.1M100.61 405.3L100.61 407.1M107.16 405.3L107.16 407.1M113.72 405.3L113.72 407.1M120.28 405.3L120.28 408.5M126.83 405.3L126.83 407.1M133.38 405.3L133.38 407.1M139.94 405.3L139.94 407.1M146.5 405.3L146.5 407.1M153.05 405.3L153.05 408.5M159.6 405.3L159.6 407.1M166.16 405.3L166.16 407.1M172.72 405.3L172.72 407.1M179.27 405.3L179.27 407.1M185.82 405.3L185.82 408.5M192.38 405.3L192.38 407.1M198.94 405.3L198.94 407.1M205.49 405.3L205.49 407.1M212.05 405.3L212.05 407.1M218.6 405.3L218.6 408.5M78.8 527L85.8 527M82.2 522.1L85.8 522.1M82.2 517.2L85.8 517.2M82.2 512.3L85.8 512.3M78.8 507.4L85.8 507.4M82.2 502.5L85.8 502.5M82.2 497.6L85.8 497.6M82.2 492.7L85.8 492.7M78.8 487.8L85.8 487.8M82.2 482.9L85.8 482.9M82.2 478L85.8 478M82.2 473.1L85.8 473.1M78.8 468.2L85.8 468.2M82.2 463.3L85.8 463.3M82.2 458.4L85.8 458.4M82.2 453.5L85.8 453.5M78.8 448.6L85.8 448.6M85.8 527L85.8 530.2M92.41 527L92.41 528.8M99.02 527L99.02 528.8M105.63 527L105.63 528.8M112.24 527L112.24 528.8M118.85 527L118.85 530.2M125.46 527L125.46 528.8M132.07 527L132.07 528.8M138.68 527L138.68 528.8M145.29 527L145.29 528.8M151.9 527L151.9 530.2M158.51 527L158.51 528.8M165.12 527L165.12 528.8M171.73 527L171.73 528.8M178.34 527L178.34 528.8M184.95 527L184.95 530.2M191.56 527L191.56 528.8M198.17 527L198.17 528.8M204.78 527L204.78 528.8M211.39 527L211.39 528.8M218 527L218 530.2M75.6 633.2L82.6 633.2M79 629.17L82.6 629.17M79 625.13L82.6 625.13M79 621.1L82.6 621.1M79 617.06L82.6 617.06M75.6 613.03L82.6 613.03M79 608.99L82.6 608.99M79 604.96L82.6 604.96M79 600.92L82.6 600.92M79 596.88L82.6 596.88M75.6 592.85L82.6 592.85M79 588.82L82.6 588.82M79 584.78L82.6 584.78M79 580.75L82.6 580.75M79 576.71L82.6 576.71M75.6 572.67L82.6 572.67M79 568.64L82.6 568.64M79 564.61L82.6 564.61M79 560.57L82.6 560.57M79 556.53L82.6 556.53M75.6 552.5L82.6 552.5M82.6 633.2L82.6 636.4M89.32 633.2L89.32 635M96.04 633.2L96.04 635M102.76 633.2L102.76 635M109.48 633.2L109.48 635M116.2 633.2L116.2 636.4M122.92 633.2L122.92 635M129.64 633.2L129.64 635M136.36 633.2L136.36 635M143.08 633.2L143.08 635M149.8 633.2L149.8 636.4M156.52 633.2L156.52 635M163.24 633.2L163.24 635M169.96 633.2L169.96 635M176.68 633.2L176.68 635M183.4 633.2L183.4 636.4M190.12 633.2L190.12 635M196.84 633.2L196.84 635M203.56 633.2L203.56 635M210.28 633.2L210.28 635M217 633.2L217 636.4M74.2 749.5L81.2 749.5M77.6 744.42L81.2 744.42M77.6 739.34L81.2 739.34M77.6 734.26L81.2 734.26M74.2 729.17L81.2 729.17M77.6 724.09L81.2 724.09M77.6 719.01L81.2 719.01M77.6 713.93L81.2 713.93M74.2 708.85L81.2 708.85M77.6 703.77L81.2 703.77M77.6 698.69L81.2 698.69M77.6 693.61L81.2 693.61M74.2 688.53L81.2 688.53M77.6 683.44L81.2 683.44M77.6 678.36L81.2 678.36M77.6 673.28L81.2 673.28M74.2 668.2L81.2 668.2M81.2 749.5L81.2 753M98.86 749.5L98.86 751.5M116.53 749.5L116.53 753M134.19 749.5L134.19 751.5M151.85 749.5L151.85 753M169.51 749.5L169.51 751.5M187.18 749.5L187.18 753M204.84 749.5L204.84 751.5M222.5 749.5L222.5 753M76.9 856.5L83.9 856.5M80.3 851.41L83.9 851.41M80.3 846.31L83.9 846.31M80.3 841.22L83.9 841.22M76.9 836.12L83.9 836.12M80.3 831.03L83.9 831.03M80.3 825.94L83.9 825.94M80.3 820.84L83.9 820.84M76.9 815.75L83.9 815.75M80.3 810.66L83.9 810.66M80.3 805.56L83.9 805.56M80.3 800.47L83.9 800.47M76.9 795.38L83.9 795.38M80.3 790.28L83.9 790.28M80.3 785.19L83.9 785.19M80.3 780.09L83.9 780.09M76.9 775L83.9 775M83.9 856.5L83.9 859.7M90.91 856.5L90.91 858.3M97.91 856.5L97.91 858.3M104.92 856.5L104.92 858.3M111.92 856.5L111.92 858.3M118.93 856.5L118.93 859.7M125.93 856.5L125.93 858.3M132.94 856.5L132.94 858.3M139.94 856.5L139.94 858.3M146.94 856.5L146.94 858.3M153.95 856.5L153.95 859.7M160.95 856.5L160.95 858.3M167.96 856.5L167.96 858.3M174.97 856.5L174.97 858.3M181.97 856.5L181.97 858.3M188.98 856.5L188.98 859.7M195.98 856.5L195.98 858.3M202.99 856.5L202.99 858.3M209.99 856.5L209.99 858.3M217 856.5L217 858.3M224 856.5L224 859.7M76.5 962.5L83.5 962.5M79.9 957.53L83.5 957.53M79.9 952.56L83.5 952.56M79.9 947.59L83.5 947.59M76.5 942.62L83.5 942.62M79.9 937.66L83.5 937.66M79.9 932.69L83.5 932.69M79.9 927.72L83.5 927.72M76.5 922.75L83.5 922.75M79.9 917.78L83.5 917.78M79.9 912.81L83.5 912.81M79.9 907.84L83.5 907.84M76.5 902.88L83.5 902.88M79.9 897.91L83.5 897.91M79.9 892.94L83.5 892.94M79.9 887.97L83.5 887.97M76.5 883L83.5 883M83.5 962.5L83.5 965.7M90.47 962.5L90.47 964.3M97.45 962.5L97.45 964.3M104.42 962.5L104.42 964.3M111.4 962.5L111.4 964.3M118.38 962.5L118.38 965.7M125.35 962.5L125.35 964.3M132.32 962.5L132.32 964.3M139.3 962.5L139.3 964.3M146.28 962.5L146.28 964.3M153.25 962.5L153.25 965.7M160.22 962.5L160.22 964.3M167.2 962.5L167.2 964.3M174.18 962.5L174.18 964.3M181.15 962.5L181.15 964.3M188.12 962.5L188.12 965.7M195.1 962.5L195.1 964.3M202.07 962.5L202.07 964.3M209.05 962.5L209.05 964.3M216.03 962.5L216.03 964.3M223 962.5L223 965.7M276.1 101.8L283.1 101.8M279.5 97.06L283.1 97.06M279.5 92.31L283.1 92.31M279.5 87.57L283.1 87.57M276.1 82.82L283.1 82.82M279.5 78.08L283.1 78.08M279.5 73.34L283.1 73.34M279.5 68.59L283.1 68.59M276.1 63.85L283.1 63.85M279.5 59.11L283.1 59.11M279.5 54.36L283.1 54.36M279.5 49.62L283.1 49.62M276.1 44.87L283.1 44.87M279.5 40.13L283.1 40.13M279.5 35.39L283.1 35.39M279.5 30.64L283.1 30.64M276.1 25.9L283.1 25.9M283.1 101.8L283.1 105.3M300.84 101.8L300.84 103.8M318.58 101.8L318.58 105.3M336.31 101.8L336.31 103.8M354.05 101.8L354.05 105.3M371.79 101.8L371.79 103.8M389.52 101.8L389.52 105.3M407.26 101.8L407.26 103.8M425 101.8L425 105.3M277 199.5L284 199.5M280.4 194.94L284 194.94M280.4 190.39L284 190.39M280.4 185.83L284 185.83M277 181.28L284 181.28M280.4 176.72L284 176.72M280.4 172.16L284 172.16M280.4 167.61L284 167.61M277 163.05L284 163.05M280.4 158.49L284 158.49M280.4 153.94L284 153.94M280.4 149.38L284 149.38M277 144.82L284 144.82M280.4 140.27L284 140.27M280.4 135.71L284 135.71M280.4 131.16L284 131.16M277 126.6L284 126.6M284 199.5L284 203M301.5 199.5L301.5 201.5M319 199.5L319 203M336.5 199.5L336.5 201.5M354 199.5L354 203M371.5 199.5L371.5 201.5M389 199.5L389 203M406.5 199.5L406.5 201.5M424 199.5L424 203M278.2 302.3L285.2 302.3M281.6 297.61L285.2 297.61M281.6 292.93L285.2 292.93M281.6 288.24L285.2 288.24M278.2 283.55L285.2 283.55M281.6 278.86L285.2 278.86M281.6 274.18L285.2 274.18M281.6 269.49L285.2 269.49M278.2 264.8L285.2 264.8M281.6 260.11L285.2 260.11M281.6 255.43L285.2 255.43M281.6 250.74L285.2 250.74M278.2 246.05L285.2 246.05M281.6 241.36L285.2 241.36M281.6 236.68L285.2 236.68M281.6 231.99L285.2 231.99M278.2 227.3L285.2 227.3M285.2 302.3L285.2 305.8M302.77 302.3L302.77 304.3M320.35 302.3L320.35 305.8M337.93 302.3L337.93 304.3M355.5 302.3L355.5 305.8M373.07 302.3L373.07 304.3M390.65 302.3L390.65 305.8M408.23 302.3L408.23 304.3M425.8 302.3L425.8 305.8M278.2 401.8L285.2 401.8M281.6 397.09L285.2 397.09M281.6 392.39L285.2 392.39M281.6 387.68L285.2 387.68M278.2 382.98L285.2 382.98M281.6 378.27L285.2 378.27M281.6 373.56L285.2 373.56M281.6 368.86L285.2 368.86M278.2 364.15L285.2 364.15M281.6 359.44L285.2 359.44M281.6 354.74L285.2 354.74M281.6 350.03L285.2 350.03M278.2 345.32L285.2 345.32M281.6 340.62L285.2 340.62M281.6 335.91L285.2 335.91M281.6 331.21L285.2 331.21M278.2 326.5L285.2 326.5M285.2 401.8L285.2 405.3M302.77 401.8L302.77 403.8M320.35 401.8L320.35 405.3M337.93 401.8L337.93 403.8M355.5 401.8L355.5 405.3M373.07 401.8L373.07 403.8M390.65 401.8L390.65 405.3M408.23 401.8L408.23 403.8M425.8 401.8L425.8 405.3M279.5 530.7L286.5 530.7M282.9 525.53L286.5 525.53M282.9 520.36L286.5 520.36M282.9 515.19L286.5 515.19M279.5 510.03L286.5 510.03M282.9 504.86L286.5 504.86M282.9 499.69L286.5 499.69M282.9 494.52L286.5 494.52M279.5 489.35L286.5 489.35M282.9 484.18L286.5 484.18M282.9 479.01L286.5 479.01M282.9 473.84L286.5 473.84M279.5 468.68L286.5 468.68M282.9 463.51L286.5 463.51M282.9 458.34L286.5 458.34M282.9 453.17L286.5 453.17M279.5 448L286.5 448M286.5 530.7L286.5 534.2M304.19 530.7L304.19 532.7M321.88 530.7L321.88 534.2M339.56 530.7L339.56 532.7M357.25 530.7L357.25 534.2M374.94 530.7L374.94 532.7M392.62 530.7L392.62 534.2M410.31 530.7L410.31 532.7M428 530.7L428 534.2M279.5 633.3L286.5 633.3M282.9 628.13L286.5 628.13M282.9 622.96L286.5 622.96M282.9 617.79L286.5 617.79M279.5 612.62L286.5 612.62M282.9 607.46L286.5 607.46M282.9 602.29L286.5 602.29M282.9 597.12L286.5 597.12M279.5 591.95L286.5 591.95M282.9 586.78L286.5 586.78M282.9 581.61L286.5 581.61M282.9 576.44L286.5 576.44M279.5 571.27L286.5 571.27M282.9 566.11L286.5 566.11M282.9 560.94L286.5 560.94M282.9 555.77L286.5 555.77M279.5 550.6L286.5 550.6M286.5 633.3L286.5 636.8M304.19 633.3L304.19 635.3M321.88 633.3L321.88 636.8M339.56 633.3L339.56 635.3M357.25 633.3L357.25 636.8M374.94 633.3L374.94 635.3M392.62 633.3L392.62 636.8M410.31 633.3L410.31 635.3M428 633.3L428 636.8M278 757.6L285 757.6M281.4 752.57L285 752.57M281.4 747.54L285 747.54M281.4 742.51L285 742.51M278 737.48L285 737.48M281.4 732.44L285 732.44M281.4 727.41L285 727.41M281.4 722.38L285 722.38M278 717.35L285 717.35M281.4 712.32L285 712.32M281.4 707.29L285 707.29M281.4 702.26L285 702.26M278 697.23L285 697.23M281.4 692.19L285 692.19M281.4 687.16L285 687.16M281.4 682.13L285 682.13M278 677.1L285 677.1M285 757.6L285 761.1M303.7 757.6L303.7 759.6M322.4 757.6L322.4 761.1M341.1 757.6L341.1 759.6M359.8 757.6L359.8 761.1M378.5 757.6L378.5 759.6M397.2 757.6L397.2 761.1M415.9 757.6L415.9 759.6M434.6 757.6L434.6 761.1M278 860.5L285 860.5M281.4 855.31L285 855.31M281.4 850.12L285 850.12M281.4 844.94L285 844.94M278 839.75L285 839.75M281.4 834.56L285 834.56M281.4 829.38L285 829.38M281.4 824.19L285 824.19M278 819L285 819M281.4 813.81L285 813.81M281.4 808.62L285 808.62M281.4 803.44L285 803.44M278 798.25L285 798.25M281.4 793.06L285 793.06M281.4 787.88L285 787.88M281.4 782.69L285 782.69M278 777.5L285 777.5M285 860.5L285 864M303.31 860.5L303.31 862.5M321.62 860.5L321.62 864M339.94 860.5L339.94 862.5M358.25 860.5L358.25 864M376.56 860.5L376.56 862.5M394.88 860.5L394.88 864M413.19 860.5L413.19 862.5M431.5 860.5L431.5 864M278 960.5L285 960.5M281.4 955.44L285 955.44M281.4 950.38L285 950.38M281.4 945.31L285 945.31M278 940.25L285 940.25M281.4 935.19L285 935.19M281.4 930.12L285 930.12M281.4 925.06L285 925.06M278 920L285 920M281.4 914.94L285 914.94M281.4 909.88L285 909.88M281.4 904.81L285 904.81M278 899.75L285 899.75M281.4 894.69L285 894.69M281.4 889.62L285 889.62M281.4 884.56L285 884.56M278 879.5L285 879.5M285 960.5L285 964M303.7 960.5L303.7 962.5M322.4 960.5L322.4 964M341.1 960.5L341.1 962.5M359.8 960.5L359.8 964M378.5 960.5L378.5 962.5M397.2 960.5L397.2 964M415.9 960.5L415.9 962.5M434.6 960.5L434.6 964" stroke="#141414" stroke-width="1.1" fill="none"/>
</svg></body></html>
